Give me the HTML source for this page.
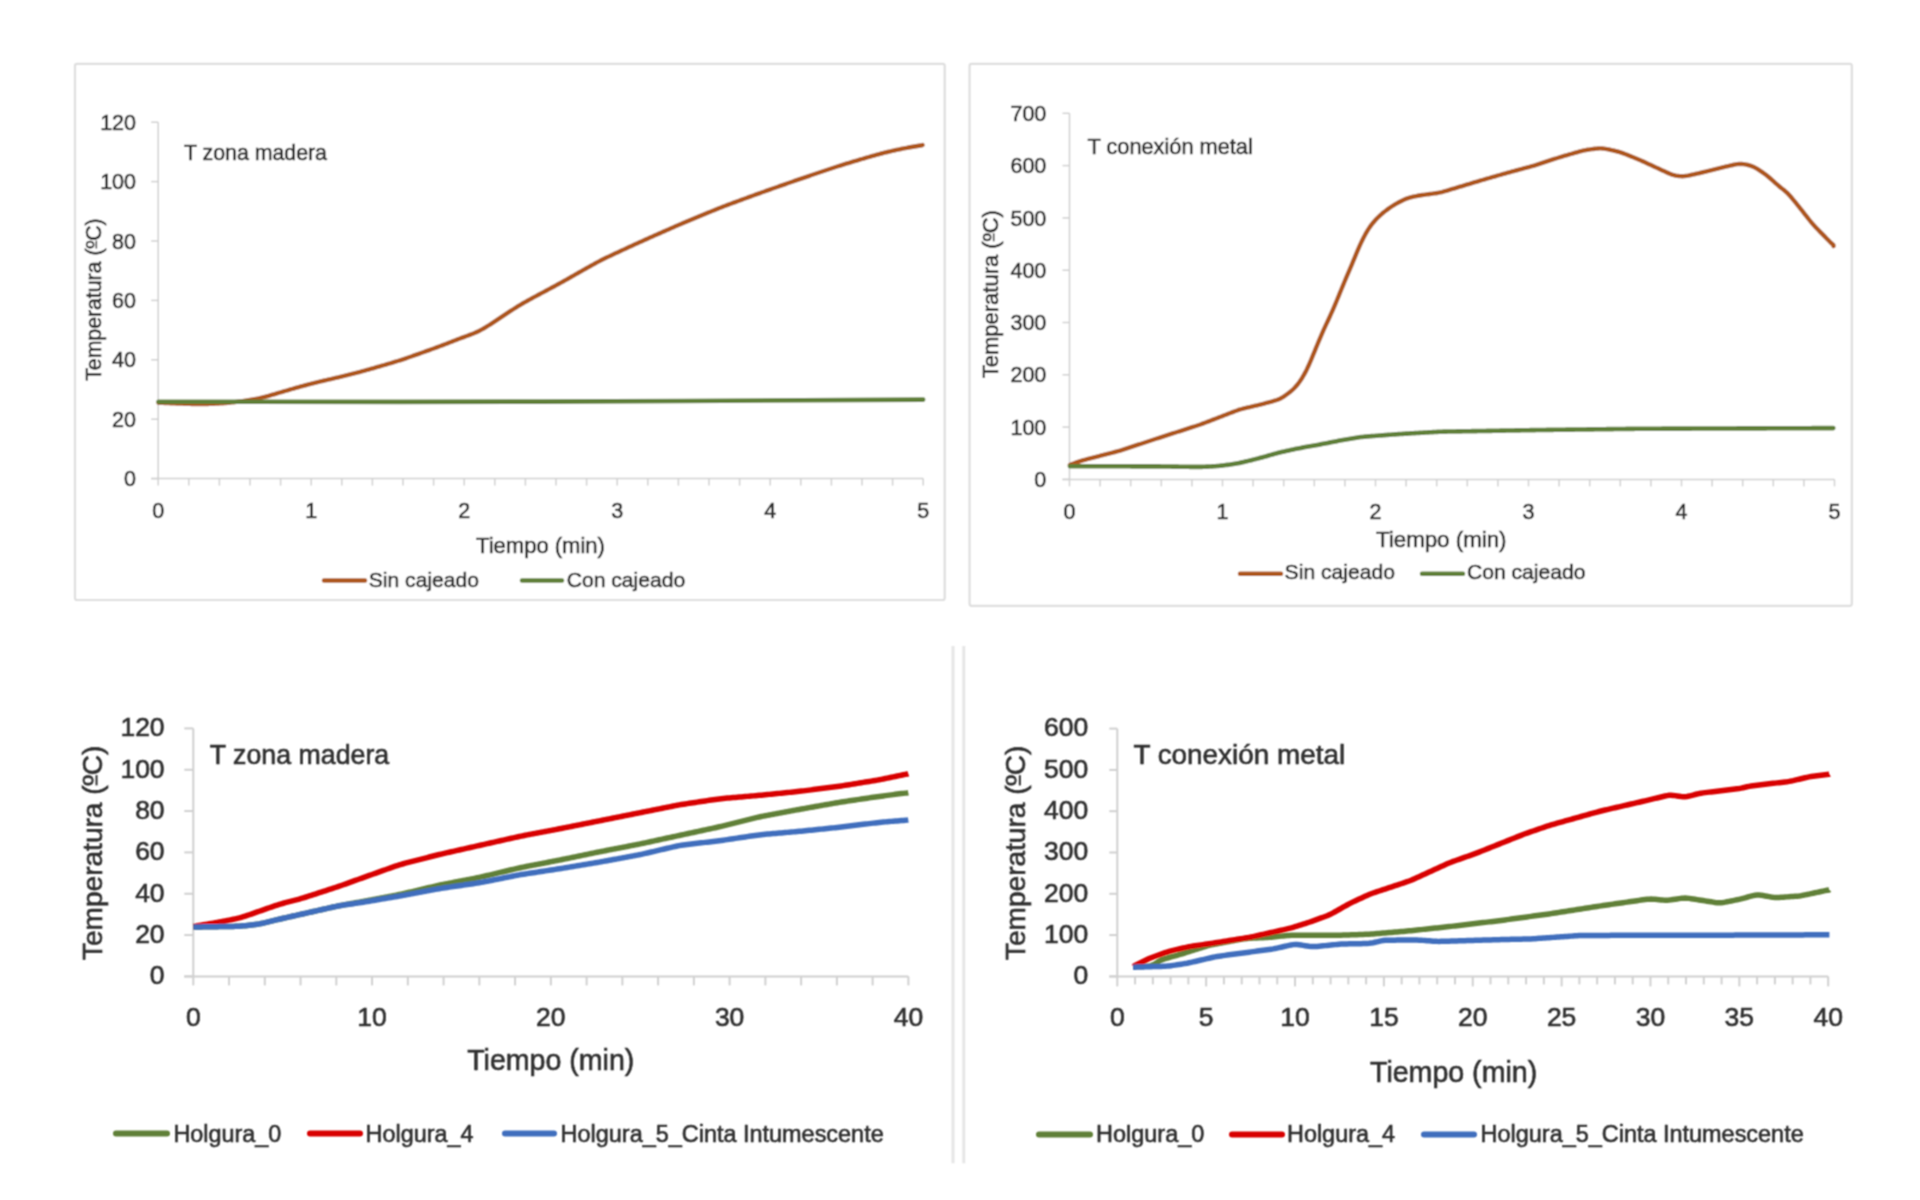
<!DOCTYPE html>
<html><head><meta charset="utf-8"><style>
html,body{margin:0;padding:0;background:#fff;width:1920px;height:1200px;overflow:hidden}
svg{display:block}
text{font-family:"Liberation Sans",sans-serif}
</style></head><body>
<svg width="1920" height="1200" viewBox="0 0 1920 1200">
<defs><filter id="bl" x="0" y="0" width="1920" height="1200" filterUnits="userSpaceOnUse"><feConvolveMatrix order="3" kernelMatrix="1 2 1 2 4 2 1 2 1" divisor="16"/></filter></defs>
<rect x="0" y="0" width="1920" height="1200" fill="#ffffff"/>
<g filter="url(#bl)">
<rect x="75" y="63.8" width="869.7" height="536.2" rx="2" fill="#ffffff" stroke="#dedede" stroke-width="2.2"/>
<rect x="969.6" y="63.8" width="882.2" height="542" rx="2" fill="#ffffff" stroke="#dedede" stroke-width="2.2"/>
<line x1="158.20" y1="122.20" x2="158.20" y2="478.60" stroke="#d0d0d0" stroke-width="1.5" stroke-linecap="butt"/>
<line x1="151.20" y1="478.60" x2="158.20" y2="478.60" stroke="#d0d0d0" stroke-width="1.5" stroke-linecap="butt"/>
<line x1="151.20" y1="419.20" x2="158.20" y2="419.20" stroke="#d0d0d0" stroke-width="1.5" stroke-linecap="butt"/>
<line x1="151.20" y1="359.80" x2="158.20" y2="359.80" stroke="#d0d0d0" stroke-width="1.5" stroke-linecap="butt"/>
<line x1="151.20" y1="300.40" x2="158.20" y2="300.40" stroke="#d0d0d0" stroke-width="1.5" stroke-linecap="butt"/>
<line x1="151.20" y1="241.00" x2="158.20" y2="241.00" stroke="#d0d0d0" stroke-width="1.5" stroke-linecap="butt"/>
<line x1="151.20" y1="181.60" x2="158.20" y2="181.60" stroke="#d0d0d0" stroke-width="1.5" stroke-linecap="butt"/>
<line x1="151.20" y1="122.20" x2="158.20" y2="122.20" stroke="#d0d0d0" stroke-width="1.5" stroke-linecap="butt"/>
<line x1="151.20" y1="478.60" x2="923.20" y2="478.60" stroke="#d0d0d0" stroke-width="1.5" stroke-linecap="butt"/>
<line x1="158.20" y1="478.60" x2="158.20" y2="485.60" stroke="#d0d0d0" stroke-width="1.5" stroke-linecap="butt"/>
<line x1="188.80" y1="478.60" x2="188.80" y2="485.60" stroke="#d0d0d0" stroke-width="1.5" stroke-linecap="butt"/>
<line x1="219.40" y1="478.60" x2="219.40" y2="485.60" stroke="#d0d0d0" stroke-width="1.5" stroke-linecap="butt"/>
<line x1="250.00" y1="478.60" x2="250.00" y2="485.60" stroke="#d0d0d0" stroke-width="1.5" stroke-linecap="butt"/>
<line x1="280.60" y1="478.60" x2="280.60" y2="485.60" stroke="#d0d0d0" stroke-width="1.5" stroke-linecap="butt"/>
<line x1="311.20" y1="478.60" x2="311.20" y2="485.60" stroke="#d0d0d0" stroke-width="1.5" stroke-linecap="butt"/>
<line x1="341.80" y1="478.60" x2="341.80" y2="485.60" stroke="#d0d0d0" stroke-width="1.5" stroke-linecap="butt"/>
<line x1="372.40" y1="478.60" x2="372.40" y2="485.60" stroke="#d0d0d0" stroke-width="1.5" stroke-linecap="butt"/>
<line x1="403.00" y1="478.60" x2="403.00" y2="485.60" stroke="#d0d0d0" stroke-width="1.5" stroke-linecap="butt"/>
<line x1="433.60" y1="478.60" x2="433.60" y2="485.60" stroke="#d0d0d0" stroke-width="1.5" stroke-linecap="butt"/>
<line x1="464.20" y1="478.60" x2="464.20" y2="485.60" stroke="#d0d0d0" stroke-width="1.5" stroke-linecap="butt"/>
<line x1="494.80" y1="478.60" x2="494.80" y2="485.60" stroke="#d0d0d0" stroke-width="1.5" stroke-linecap="butt"/>
<line x1="525.40" y1="478.60" x2="525.40" y2="485.60" stroke="#d0d0d0" stroke-width="1.5" stroke-linecap="butt"/>
<line x1="556.00" y1="478.60" x2="556.00" y2="485.60" stroke="#d0d0d0" stroke-width="1.5" stroke-linecap="butt"/>
<line x1="586.60" y1="478.60" x2="586.60" y2="485.60" stroke="#d0d0d0" stroke-width="1.5" stroke-linecap="butt"/>
<line x1="617.20" y1="478.60" x2="617.20" y2="485.60" stroke="#d0d0d0" stroke-width="1.5" stroke-linecap="butt"/>
<line x1="647.80" y1="478.60" x2="647.80" y2="485.60" stroke="#d0d0d0" stroke-width="1.5" stroke-linecap="butt"/>
<line x1="678.40" y1="478.60" x2="678.40" y2="485.60" stroke="#d0d0d0" stroke-width="1.5" stroke-linecap="butt"/>
<line x1="709.00" y1="478.60" x2="709.00" y2="485.60" stroke="#d0d0d0" stroke-width="1.5" stroke-linecap="butt"/>
<line x1="739.60" y1="478.60" x2="739.60" y2="485.60" stroke="#d0d0d0" stroke-width="1.5" stroke-linecap="butt"/>
<line x1="770.20" y1="478.60" x2="770.20" y2="485.60" stroke="#d0d0d0" stroke-width="1.5" stroke-linecap="butt"/>
<line x1="800.80" y1="478.60" x2="800.80" y2="485.60" stroke="#d0d0d0" stroke-width="1.5" stroke-linecap="butt"/>
<line x1="831.40" y1="478.60" x2="831.40" y2="485.60" stroke="#d0d0d0" stroke-width="1.5" stroke-linecap="butt"/>
<line x1="862.00" y1="478.60" x2="862.00" y2="485.60" stroke="#d0d0d0" stroke-width="1.5" stroke-linecap="butt"/>
<line x1="892.60" y1="478.60" x2="892.60" y2="485.60" stroke="#d0d0d0" stroke-width="1.5" stroke-linecap="butt"/>
<line x1="923.20" y1="478.60" x2="923.20" y2="485.60" stroke="#d0d0d0" stroke-width="1.5" stroke-linecap="butt"/>
<text x="124.05" y="486.21" font-size="21.50" fill="#2f2f2f" stroke="#2f2f2f" stroke-width="0.60" >0</text>
<text x="112.09" y="426.81" font-size="21.50" fill="#2f2f2f" stroke="#2f2f2f" stroke-width="0.60" >20</text>
<text x="112.09" y="367.41" font-size="21.50" fill="#2f2f2f" stroke="#2f2f2f" stroke-width="0.60" >40</text>
<text x="112.09" y="308.01" font-size="21.50" fill="#2f2f2f" stroke="#2f2f2f" stroke-width="0.60" >60</text>
<text x="112.09" y="248.61" font-size="21.50" fill="#2f2f2f" stroke="#2f2f2f" stroke-width="0.60" >80</text>
<text x="100.14" y="189.21" font-size="21.50" fill="#2f2f2f" stroke="#2f2f2f" stroke-width="0.60" >100</text>
<text x="100.14" y="129.81" font-size="21.50" fill="#2f2f2f" stroke="#2f2f2f" stroke-width="0.60" >120</text>
<text x="152.22" y="518.30" font-size="21.50" fill="#2f2f2f" stroke="#2f2f2f" stroke-width="0.60" >0</text>
<text x="305.22" y="518.30" font-size="21.50" fill="#2f2f2f" stroke="#2f2f2f" stroke-width="0.60" >1</text>
<text x="458.22" y="518.30" font-size="21.50" fill="#2f2f2f" stroke="#2f2f2f" stroke-width="0.60" >2</text>
<text x="611.22" y="518.30" font-size="21.50" fill="#2f2f2f" stroke="#2f2f2f" stroke-width="0.60" >3</text>
<text x="764.22" y="518.30" font-size="21.50" fill="#2f2f2f" stroke="#2f2f2f" stroke-width="0.60" >4</text>
<text x="917.22" y="518.30" font-size="21.50" fill="#2f2f2f" stroke="#2f2f2f" stroke-width="0.60" >5</text>
<text x="184.00" y="160.00" font-size="21.32" fill="#2f2f2f" stroke="#2f2f2f" stroke-width="0.60" >T zona madera</text>
<text x="476.00" y="553.30" font-size="22.04" fill="#2f2f2f" stroke="#2f2f2f" stroke-width="0.60" >Tiempo (min)</text>
<text transform="translate(100.61,380.80) rotate(-90)" x="0.00" y="0" font-size="21.26" fill="#2f2f2f" stroke="#2f2f2f" stroke-width="0.60">Temperatura (ºC)</text>
<rect transform="translate(100.61,380.80) rotate(-90)" x="132.31" y="-5.01" width="7.76" height="1.52" fill="#2f2f2f"/>
<line x1="324.00" y1="580.60" x2="365.00" y2="580.60" stroke="#ad561a" stroke-width="4.5" stroke-linecap="round"/>
<text x="368.75" y="586.50" font-size="21.10" fill="#2f2f2f" stroke="#2f2f2f" stroke-width="0.60" >Sin cajeado</text>
<line x1="522.00" y1="580.60" x2="562.00" y2="580.60" stroke="#5e7f37" stroke-width="4.5" stroke-linecap="round"/>
<text x="566.70" y="586.50" font-size="21.14" fill="#2f2f2f" stroke="#2f2f2f" stroke-width="0.60" >Con cajeado</text>
<path d="M158.5,402.70 L160.0,402.76 L161.5,402.83 L163.0,402.89 L164.5,402.95 L166.0,403.01 L167.5,403.08 L169.0,403.14 L170.5,403.20 L172.0,403.26 L173.5,403.32 L175.0,403.38 L176.5,403.44 L178.0,403.50 L179.5,403.56 L181.0,403.62 L182.5,403.67 L184.0,403.72 L185.5,403.78 L187.0,403.83 L188.5,403.88 L190.0,403.92 L191.5,403.96 L193.0,404.00 L194.5,404.03 L196.0,404.05 L197.5,404.07 L199.0,404.07 L200.5,404.08 L202.0,404.07 L203.5,404.05 L205.0,404.03 L206.5,404.00 L208.0,403.96 L209.5,403.92 L211.0,403.86 L212.5,403.80 L214.0,403.74 L215.5,403.67 L217.0,403.59 L218.5,403.50 L220.0,403.41 L221.5,403.31 L223.0,403.20 L224.5,403.08 L226.0,402.96 L227.5,402.83 L229.0,402.69 L230.5,402.55 L232.0,402.40 L233.5,402.25 L235.0,402.09 L236.5,401.92 L238.0,401.74 L239.5,401.55 L241.0,401.36 L242.5,401.16 L244.0,400.95 L245.5,400.73 L247.0,400.50 L248.5,400.27 L250.0,400.02 L251.5,399.76 L253.0,399.49 L254.5,399.21 L256.0,398.92 L257.5,398.61 L259.0,398.28 L260.5,397.94 L262.0,397.58 L263.5,397.21 L265.0,396.82 L266.5,396.42 L268.0,396.01 L269.5,395.59 L271.0,395.16 L272.5,394.73 L274.0,394.29 L275.5,393.85 L277.0,393.40 L278.5,392.96 L280.0,392.51 L281.5,392.07 L283.0,391.63 L284.5,391.18 L286.0,390.74 L287.5,390.30 L289.0,389.86 L290.5,389.42 L292.0,388.99 L293.5,388.56 L295.0,388.13 L296.5,387.70 L298.0,387.28 L299.5,386.87 L301.0,386.45 L302.5,386.05 L304.0,385.64 L305.5,385.25 L307.0,384.85 L308.5,384.46 L310.0,384.08 L311.5,383.70 L313.0,383.32 L314.5,382.94 L316.0,382.57 L317.5,382.20 L319.0,381.84 L320.5,381.48 L322.0,381.12 L323.5,380.76 L325.0,380.41 L326.5,380.06 L328.0,379.71 L329.5,379.37 L331.0,379.02 L332.5,378.68 L334.0,378.33 L335.5,377.98 L337.0,377.63 L338.5,377.28 L340.0,376.92 L341.5,376.56 L343.0,376.20 L344.5,375.84 L346.0,375.47 L347.5,375.10 L349.0,374.73 L350.5,374.35 L352.0,373.97 L353.5,373.59 L355.0,373.20 L356.5,372.81 L358.0,372.41 L359.5,372.01 L361.0,371.61 L362.5,371.20 L364.0,370.79 L365.5,370.38 L367.0,369.96 L368.5,369.53 L370.0,369.11 L371.5,368.68 L373.0,368.26 L374.5,367.83 L376.0,367.40 L377.5,366.97 L379.0,366.54 L380.5,366.10 L382.0,365.67 L383.5,365.24 L385.0,364.81 L386.5,364.37 L388.0,363.93 L389.5,363.50 L391.0,363.05 L392.5,362.61 L394.0,362.16 L395.5,361.70 L397.0,361.23 L398.5,360.76 L400.0,360.29 L401.5,359.80 L403.0,359.31 L404.5,358.81 L406.0,358.30 L407.5,357.79 L409.0,357.27 L410.5,356.75 L412.0,356.22 L413.5,355.70 L415.0,355.17 L416.5,354.64 L418.0,354.11 L419.5,353.58 L421.0,353.04 L422.5,352.51 L424.0,351.98 L425.5,351.44 L427.0,350.91 L428.5,350.37 L430.0,349.83 L431.5,349.29 L433.0,348.75 L434.5,348.20 L436.0,347.66 L437.5,347.10 L439.0,346.54 L440.5,345.98 L442.0,345.41 L443.5,344.84 L445.0,344.27 L446.5,343.69 L448.0,343.11 L449.5,342.52 L451.0,341.94 L452.5,341.36 L454.0,340.77 L455.5,340.19 L457.0,339.62 L458.5,339.05 L460.0,338.48 L461.5,337.92 L463.0,337.37 L464.5,336.82 L466.0,336.27 L467.5,335.72 L469.0,335.17 L470.5,334.61 L472.0,334.02 L473.5,333.42 L475.0,332.79 L476.5,332.12 L478.0,331.42 L479.5,330.68 L481.0,329.90 L482.5,329.08 L484.0,328.23 L485.5,327.34 L487.0,326.43 L488.5,325.50 L490.0,324.55 L491.5,323.58 L493.0,322.61 L494.5,321.62 L496.0,320.63 L497.5,319.64 L499.0,318.64 L500.5,317.65 L502.0,316.65 L503.5,315.65 L505.0,314.65 L506.5,313.66 L508.0,312.67 L509.5,311.68 L511.0,310.70 L512.5,309.72 L514.0,308.76 L515.5,307.81 L517.0,306.87 L518.5,305.95 L520.0,305.04 L521.5,304.14 L523.0,303.26 L524.5,302.40 L526.0,301.55 L527.5,300.71 L529.0,299.88 L530.5,299.06 L532.0,298.24 L533.5,297.43 L535.0,296.62 L536.5,295.82 L538.0,295.02 L539.5,294.22 L541.0,293.42 L542.5,292.62 L544.0,291.82 L545.5,291.02 L547.0,290.22 L548.5,289.41 L550.0,288.61 L551.5,287.80 L553.0,287.00 L554.5,286.19 L556.0,285.37 L557.5,284.55 L559.0,283.73 L560.5,282.90 L562.0,282.07 L563.5,281.24 L565.0,280.40 L566.5,279.56 L568.0,278.72 L569.5,277.87 L571.0,277.02 L572.5,276.17 L574.0,275.32 L575.5,274.46 L577.0,273.61 L578.5,272.75 L580.0,271.90 L581.5,271.05 L583.0,270.19 L584.5,269.34 L586.0,268.49 L587.5,267.65 L589.0,266.80 L590.5,265.96 L592.0,265.13 L593.5,264.31 L595.0,263.49 L596.5,262.68 L598.0,261.89 L599.5,261.10 L601.0,260.33 L602.5,259.57 L604.0,258.82 L605.5,258.08 L607.0,257.35 L608.5,256.63 L610.0,255.92 L611.5,255.21 L613.0,254.51 L614.5,253.80 L616.0,253.11 L617.5,252.41 L619.0,251.71 L620.5,251.02 L622.0,250.33 L623.5,249.63 L625.0,248.94 L626.5,248.25 L628.0,247.55 L629.5,246.86 L631.0,246.17 L632.5,245.48 L634.0,244.80 L635.5,244.11 L637.0,243.43 L638.5,242.74 L640.0,242.06 L641.5,241.39 L643.0,240.71 L644.5,240.04 L646.0,239.37 L647.5,238.70 L649.0,238.03 L650.5,237.36 L652.0,236.69 L653.5,236.03 L655.0,235.36 L656.5,234.70 L658.0,234.04 L659.5,233.37 L661.0,232.71 L662.5,232.04 L664.0,231.38 L665.5,230.72 L667.0,230.06 L668.5,229.40 L670.0,228.74 L671.5,228.08 L673.0,227.42 L674.5,226.77 L676.0,226.11 L677.5,225.46 L679.0,224.82 L680.5,224.17 L682.0,223.53 L683.5,222.90 L685.0,222.26 L686.5,221.63 L688.0,221.00 L689.5,220.37 L691.0,219.74 L692.5,219.12 L694.0,218.49 L695.5,217.87 L697.0,217.25 L698.5,216.62 L700.0,216.00 L701.5,215.38 L703.0,214.76 L704.5,214.14 L706.0,213.52 L707.5,212.90 L709.0,212.28 L710.5,211.66 L712.0,211.05 L713.5,210.44 L715.0,209.84 L716.5,209.23 L718.0,208.64 L719.5,208.05 L721.0,207.46 L722.5,206.88 L724.0,206.30 L725.5,205.73 L727.0,205.17 L728.5,204.60 L730.0,204.04 L731.5,203.49 L733.0,202.93 L734.5,202.38 L736.0,201.82 L737.5,201.27 L739.0,200.72 L740.5,200.17 L742.0,199.62 L743.5,199.06 L745.0,198.51 L746.5,197.96 L748.0,197.41 L749.5,196.86 L751.0,196.32 L752.5,195.77 L754.0,195.22 L755.5,194.68 L757.0,194.14 L758.5,193.59 L760.0,193.06 L761.5,192.52 L763.0,191.98 L764.5,191.45 L766.0,190.92 L767.5,190.39 L769.0,189.86 L770.5,189.33 L772.0,188.80 L773.5,188.28 L775.0,187.75 L776.5,187.23 L778.0,186.70 L779.5,186.18 L781.0,185.65 L782.5,185.13 L784.0,184.60 L785.5,184.08 L787.0,183.55 L788.5,183.03 L790.0,182.50 L791.5,181.98 L793.0,181.46 L794.5,180.94 L796.0,180.42 L797.5,179.90 L799.0,179.38 L800.5,178.87 L802.0,178.35 L803.5,177.84 L805.0,177.33 L806.5,176.82 L808.0,176.31 L809.5,175.80 L811.0,175.29 L812.5,174.78 L814.0,174.28 L815.5,173.77 L817.0,173.26 L818.5,172.76 L820.0,172.25 L821.5,171.74 L823.0,171.24 L824.5,170.73 L826.0,170.23 L827.5,169.73 L829.0,169.23 L830.5,168.73 L832.0,168.23 L833.5,167.73 L835.0,167.24 L836.5,166.75 L838.0,166.27 L839.5,165.79 L841.0,165.32 L842.5,164.85 L844.0,164.39 L845.5,163.93 L847.0,163.47 L848.5,163.02 L850.0,162.57 L851.5,162.12 L853.0,161.67 L854.5,161.23 L856.0,160.78 L857.5,160.34 L859.0,159.90 L860.5,159.45 L862.0,159.01 L863.5,158.57 L865.0,158.13 L866.5,157.69 L868.0,157.25 L869.5,156.82 L871.0,156.39 L872.5,155.96 L874.0,155.53 L875.5,155.11 L877.0,154.70 L878.5,154.29 L880.0,153.89 L881.5,153.50 L883.0,153.11 L884.5,152.73 L886.0,152.36 L887.5,151.99 L889.0,151.63 L890.5,151.28 L892.0,150.93 L893.5,150.59 L895.0,150.25 L896.5,149.92 L898.0,149.60 L899.5,149.29 L901.0,148.98 L902.5,148.68 L904.0,148.38 L905.5,148.09 L907.0,147.81 L908.5,147.53 L910.0,147.26 L911.5,146.99 L913.0,146.73 L914.5,146.48 L916.0,146.22 L917.5,145.98 L919.0,145.74 L920.5,145.50 L922.0,145.27 L922.5,145.04" fill="none" stroke="#ad561a" stroke-width="4.4" stroke-linejoin="round" stroke-linecap="round" />
<path d="M158.5,401.8 C222.1,401.8 412.6,402.0 540.0,401.6 C667.5,401.2 859.3,399.9 923.2,399.6" fill="none" stroke="#5e7f37" stroke-width="4.6" stroke-linejoin="round" stroke-linecap="round" />
<line x1="1069.50" y1="113.30" x2="1069.50" y2="479.40" stroke="#d0d0d0" stroke-width="1.5" stroke-linecap="butt"/>
<line x1="1062.50" y1="479.40" x2="1069.50" y2="479.40" stroke="#d0d0d0" stroke-width="1.5" stroke-linecap="butt"/>
<line x1="1062.50" y1="427.10" x2="1069.50" y2="427.10" stroke="#d0d0d0" stroke-width="1.5" stroke-linecap="butt"/>
<line x1="1062.50" y1="374.80" x2="1069.50" y2="374.80" stroke="#d0d0d0" stroke-width="1.5" stroke-linecap="butt"/>
<line x1="1062.50" y1="322.50" x2="1069.50" y2="322.50" stroke="#d0d0d0" stroke-width="1.5" stroke-linecap="butt"/>
<line x1="1062.50" y1="270.20" x2="1069.50" y2="270.20" stroke="#d0d0d0" stroke-width="1.5" stroke-linecap="butt"/>
<line x1="1062.50" y1="217.90" x2="1069.50" y2="217.90" stroke="#d0d0d0" stroke-width="1.5" stroke-linecap="butt"/>
<line x1="1062.50" y1="165.60" x2="1069.50" y2="165.60" stroke="#d0d0d0" stroke-width="1.5" stroke-linecap="butt"/>
<line x1="1062.50" y1="113.30" x2="1069.50" y2="113.30" stroke="#d0d0d0" stroke-width="1.5" stroke-linecap="butt"/>
<line x1="1062.50" y1="479.40" x2="1834.50" y2="479.40" stroke="#d0d0d0" stroke-width="1.5" stroke-linecap="butt"/>
<line x1="1069.50" y1="479.40" x2="1069.50" y2="486.40" stroke="#d0d0d0" stroke-width="1.5" stroke-linecap="butt"/>
<line x1="1100.10" y1="479.40" x2="1100.10" y2="486.40" stroke="#d0d0d0" stroke-width="1.5" stroke-linecap="butt"/>
<line x1="1130.70" y1="479.40" x2="1130.70" y2="486.40" stroke="#d0d0d0" stroke-width="1.5" stroke-linecap="butt"/>
<line x1="1161.30" y1="479.40" x2="1161.30" y2="486.40" stroke="#d0d0d0" stroke-width="1.5" stroke-linecap="butt"/>
<line x1="1191.90" y1="479.40" x2="1191.90" y2="486.40" stroke="#d0d0d0" stroke-width="1.5" stroke-linecap="butt"/>
<line x1="1222.50" y1="479.40" x2="1222.50" y2="486.40" stroke="#d0d0d0" stroke-width="1.5" stroke-linecap="butt"/>
<line x1="1253.10" y1="479.40" x2="1253.10" y2="486.40" stroke="#d0d0d0" stroke-width="1.5" stroke-linecap="butt"/>
<line x1="1283.70" y1="479.40" x2="1283.70" y2="486.40" stroke="#d0d0d0" stroke-width="1.5" stroke-linecap="butt"/>
<line x1="1314.30" y1="479.40" x2="1314.30" y2="486.40" stroke="#d0d0d0" stroke-width="1.5" stroke-linecap="butt"/>
<line x1="1344.90" y1="479.40" x2="1344.90" y2="486.40" stroke="#d0d0d0" stroke-width="1.5" stroke-linecap="butt"/>
<line x1="1375.50" y1="479.40" x2="1375.50" y2="486.40" stroke="#d0d0d0" stroke-width="1.5" stroke-linecap="butt"/>
<line x1="1406.10" y1="479.40" x2="1406.10" y2="486.40" stroke="#d0d0d0" stroke-width="1.5" stroke-linecap="butt"/>
<line x1="1436.70" y1="479.40" x2="1436.70" y2="486.40" stroke="#d0d0d0" stroke-width="1.5" stroke-linecap="butt"/>
<line x1="1467.30" y1="479.40" x2="1467.30" y2="486.40" stroke="#d0d0d0" stroke-width="1.5" stroke-linecap="butt"/>
<line x1="1497.90" y1="479.40" x2="1497.90" y2="486.40" stroke="#d0d0d0" stroke-width="1.5" stroke-linecap="butt"/>
<line x1="1528.50" y1="479.40" x2="1528.50" y2="486.40" stroke="#d0d0d0" stroke-width="1.5" stroke-linecap="butt"/>
<line x1="1559.10" y1="479.40" x2="1559.10" y2="486.40" stroke="#d0d0d0" stroke-width="1.5" stroke-linecap="butt"/>
<line x1="1589.70" y1="479.40" x2="1589.70" y2="486.40" stroke="#d0d0d0" stroke-width="1.5" stroke-linecap="butt"/>
<line x1="1620.30" y1="479.40" x2="1620.30" y2="486.40" stroke="#d0d0d0" stroke-width="1.5" stroke-linecap="butt"/>
<line x1="1650.90" y1="479.40" x2="1650.90" y2="486.40" stroke="#d0d0d0" stroke-width="1.5" stroke-linecap="butt"/>
<line x1="1681.50" y1="479.40" x2="1681.50" y2="486.40" stroke="#d0d0d0" stroke-width="1.5" stroke-linecap="butt"/>
<line x1="1712.10" y1="479.40" x2="1712.10" y2="486.40" stroke="#d0d0d0" stroke-width="1.5" stroke-linecap="butt"/>
<line x1="1742.70" y1="479.40" x2="1742.70" y2="486.40" stroke="#d0d0d0" stroke-width="1.5" stroke-linecap="butt"/>
<line x1="1773.30" y1="479.40" x2="1773.30" y2="486.40" stroke="#d0d0d0" stroke-width="1.5" stroke-linecap="butt"/>
<line x1="1803.90" y1="479.40" x2="1803.90" y2="486.40" stroke="#d0d0d0" stroke-width="1.5" stroke-linecap="butt"/>
<line x1="1834.50" y1="479.40" x2="1834.50" y2="486.40" stroke="#d0d0d0" stroke-width="1.5" stroke-linecap="butt"/>
<text x="1034.35" y="487.01" font-size="21.50" fill="#2f2f2f" stroke="#2f2f2f" stroke-width="0.60" >0</text>
<text x="1010.44" y="434.71" font-size="21.50" fill="#2f2f2f" stroke="#2f2f2f" stroke-width="0.60" >100</text>
<text x="1010.44" y="382.41" font-size="21.50" fill="#2f2f2f" stroke="#2f2f2f" stroke-width="0.60" >200</text>
<text x="1010.44" y="330.11" font-size="21.50" fill="#2f2f2f" stroke="#2f2f2f" stroke-width="0.60" >300</text>
<text x="1010.44" y="277.81" font-size="21.50" fill="#2f2f2f" stroke="#2f2f2f" stroke-width="0.60" >400</text>
<text x="1010.44" y="225.51" font-size="21.50" fill="#2f2f2f" stroke="#2f2f2f" stroke-width="0.60" >500</text>
<text x="1010.44" y="173.21" font-size="21.50" fill="#2f2f2f" stroke="#2f2f2f" stroke-width="0.60" >600</text>
<text x="1010.44" y="120.91" font-size="21.50" fill="#2f2f2f" stroke="#2f2f2f" stroke-width="0.60" >700</text>
<text x="1063.52" y="518.60" font-size="21.50" fill="#2f2f2f" stroke="#2f2f2f" stroke-width="0.60" >0</text>
<text x="1216.52" y="518.60" font-size="21.50" fill="#2f2f2f" stroke="#2f2f2f" stroke-width="0.60" >1</text>
<text x="1369.52" y="518.60" font-size="21.50" fill="#2f2f2f" stroke="#2f2f2f" stroke-width="0.60" >2</text>
<text x="1522.52" y="518.60" font-size="21.50" fill="#2f2f2f" stroke="#2f2f2f" stroke-width="0.60" >3</text>
<text x="1675.52" y="518.60" font-size="21.50" fill="#2f2f2f" stroke="#2f2f2f" stroke-width="0.60" >4</text>
<text x="1828.52" y="518.60" font-size="21.50" fill="#2f2f2f" stroke="#2f2f2f" stroke-width="0.60" >5</text>
<text x="1087.50" y="154.20" font-size="21.76" fill="#2f2f2f" stroke="#2f2f2f" stroke-width="0.60" >T conexión metal</text>
<text x="1376.00" y="546.70" font-size="22.30" fill="#2f2f2f" stroke="#2f2f2f" stroke-width="0.60" >Tiempo (min)</text>
<text transform="translate(998.06,378.20) rotate(-90)" x="0.00" y="0" font-size="21.99" fill="#2f2f2f" stroke="#2f2f2f" stroke-width="0.60">Temperatura (ºC)</text>
<rect transform="translate(998.06,378.20) rotate(-90)" x="136.87" y="-5.18" width="8.03" height="1.57" fill="#2f2f2f"/>
<line x1="1240.00" y1="573.75" x2="1281.00" y2="573.75" stroke="#ad561a" stroke-width="4.5" stroke-linecap="round"/>
<text x="1284.60" y="579.00" font-size="21.13" fill="#2f2f2f" stroke="#2f2f2f" stroke-width="0.60" >Sin cajeado</text>
<line x1="1422.00" y1="573.75" x2="1463.00" y2="573.75" stroke="#5e7f37" stroke-width="4.5" stroke-linecap="round"/>
<text x="1466.90" y="579.00" font-size="21.14" fill="#2f2f2f" stroke="#2f2f2f" stroke-width="0.60" >Con cajeado</text>
<path d="M1069.9,465.00 L1071.4,464.41 L1072.9,463.82 L1074.4,463.23 L1075.9,462.65 L1077.4,462.09 L1078.9,461.56 L1080.4,461.06 L1081.9,460.60 L1083.4,460.17 L1084.9,459.76 L1086.4,459.36 L1087.9,458.97 L1089.4,458.58 L1090.9,458.19 L1092.4,457.81 L1093.9,457.42 L1095.4,457.03 L1096.9,456.65 L1098.4,456.26 L1099.9,455.88 L1101.4,455.49 L1102.9,455.10 L1104.4,454.72 L1105.9,454.33 L1107.4,453.94 L1108.9,453.56 L1110.4,453.17 L1111.9,452.78 L1113.4,452.40 L1114.9,452.00 L1116.4,451.61 L1117.9,451.20 L1119.4,450.77 L1120.9,450.33 L1122.4,449.87 L1123.9,449.40 L1125.4,448.91 L1126.9,448.42 L1128.4,447.93 L1129.9,447.43 L1131.4,446.94 L1132.9,446.44 L1134.4,445.95 L1135.9,445.45 L1137.4,444.96 L1138.9,444.46 L1140.4,443.97 L1141.9,443.47 L1143.4,442.98 L1144.9,442.48 L1146.4,441.99 L1147.9,441.49 L1149.4,441.00 L1150.9,440.50 L1152.4,440.01 L1153.9,439.51 L1155.4,439.02 L1156.9,438.53 L1158.4,438.04 L1159.9,437.55 L1161.4,437.06 L1162.9,436.58 L1164.4,436.09 L1165.9,435.61 L1167.4,435.13 L1168.9,434.65 L1170.4,434.17 L1171.9,433.69 L1173.4,433.21 L1174.9,432.73 L1176.4,432.25 L1177.9,431.77 L1179.4,431.29 L1180.9,430.81 L1182.4,430.33 L1183.9,429.85 L1185.4,429.37 L1186.9,428.89 L1188.4,428.41 L1189.9,427.93 L1191.4,427.45 L1192.9,426.97 L1194.4,426.49 L1195.9,426.00 L1197.4,425.50 L1198.9,424.99 L1200.4,424.47 L1201.9,423.93 L1203.4,423.37 L1204.9,422.81 L1206.4,422.23 L1207.9,421.66 L1209.4,421.08 L1210.9,420.50 L1212.4,419.93 L1213.9,419.35 L1215.4,418.77 L1216.9,418.19 L1218.4,417.62 L1219.9,417.04 L1221.4,416.46 L1222.9,415.88 L1224.4,415.31 L1225.9,414.73 L1227.4,414.15 L1228.9,413.57 L1230.4,413.00 L1231.9,412.42 L1233.4,411.85 L1234.9,411.28 L1236.4,410.73 L1237.9,410.20 L1239.4,409.71 L1240.9,409.25 L1242.4,408.83 L1243.9,408.44 L1245.4,408.07 L1246.9,407.72 L1248.4,407.37 L1249.9,407.02 L1251.4,406.68 L1252.9,406.33 L1254.4,405.98 L1255.9,405.63 L1257.4,405.28 L1258.9,404.92 L1260.4,404.54 L1261.9,404.16 L1263.4,403.77 L1264.9,403.37 L1266.4,402.97 L1267.9,402.57 L1269.4,402.16 L1270.9,401.76 L1272.4,401.34 L1273.9,400.92 L1275.4,400.48 L1276.9,399.98 L1278.4,399.41 L1279.9,398.73 L1281.4,397.95 L1282.9,397.05 L1284.4,396.07 L1285.9,395.04 L1287.4,393.96 L1288.9,392.84 L1290.4,391.66 L1291.9,390.39 L1293.4,389.00 L1294.9,387.49 L1296.4,385.82 L1297.9,384.00 L1299.4,382.01 L1300.9,379.84 L1302.4,377.48 L1303.9,374.92 L1305.4,372.15 L1306.9,369.17 L1308.4,365.98 L1309.9,362.60 L1311.4,359.07 L1312.9,355.46 L1314.4,351.80 L1315.9,348.12 L1317.4,344.46 L1318.9,340.84 L1320.4,337.30 L1321.9,333.84 L1323.4,330.47 L1324.9,327.18 L1326.4,323.93 L1327.9,320.71 L1329.4,317.47 L1330.9,314.19 L1332.4,310.84 L1333.9,307.39 L1335.4,303.86 L1336.9,300.25 L1338.4,296.59 L1339.9,292.92 L1341.4,289.25 L1342.9,285.60 L1344.4,282.00 L1345.9,278.44 L1347.4,274.92 L1348.9,271.40 L1350.4,267.87 L1351.9,264.31 L1353.4,260.70 L1354.9,257.05 L1356.4,253.40 L1357.9,249.81 L1359.4,246.35 L1360.9,243.05 L1362.4,239.93 L1363.9,236.99 L1365.4,234.21 L1366.9,231.59 L1368.4,229.15 L1369.9,226.91 L1371.4,224.86 L1372.9,222.99 L1374.4,221.24 L1375.9,219.59 L1377.4,218.01 L1378.9,216.52 L1380.4,215.12 L1381.9,213.81 L1383.4,212.57 L1384.9,211.39 L1386.4,210.25 L1387.9,209.14 L1389.4,208.05 L1390.9,207.00 L1392.4,206.00 L1393.9,205.06 L1395.4,204.17 L1396.9,203.32 L1398.4,202.51 L1399.9,201.72 L1401.4,200.95 L1402.9,200.20 L1404.4,199.50 L1405.9,198.86 L1407.4,198.30 L1408.9,197.81 L1410.4,197.39 L1411.9,197.02 L1413.4,196.69 L1414.9,196.37 L1416.4,196.07 L1417.9,195.78 L1419.4,195.51 L1420.9,195.26 L1422.4,195.03 L1423.9,194.81 L1425.4,194.61 L1426.9,194.41 L1428.4,194.21 L1429.9,194.01 L1431.4,193.82 L1432.9,193.62 L1434.4,193.41 L1435.9,193.20 L1437.4,192.96 L1438.9,192.69 L1440.4,192.37 L1441.9,192.02 L1443.4,191.63 L1444.9,191.21 L1446.4,190.77 L1447.9,190.33 L1449.4,189.88 L1450.9,189.43 L1452.4,188.98 L1453.9,188.53 L1455.4,188.08 L1456.9,187.63 L1458.4,187.18 L1459.9,186.73 L1461.4,186.28 L1462.9,185.83 L1464.4,185.38 L1465.9,184.93 L1467.4,184.48 L1468.9,184.03 L1470.4,183.58 L1471.9,183.13 L1473.4,182.68 L1474.9,182.23 L1476.4,181.78 L1477.9,181.33 L1479.4,180.88 L1480.9,180.43 L1482.4,179.99 L1483.9,179.54 L1485.4,179.11 L1486.9,178.67 L1488.4,178.24 L1489.9,177.81 L1491.4,177.38 L1492.9,176.96 L1494.4,176.53 L1495.9,176.10 L1497.4,175.68 L1498.9,175.25 L1500.4,174.83 L1501.9,174.40 L1503.4,173.98 L1504.9,173.55 L1506.4,173.13 L1507.9,172.71 L1509.4,172.29 L1510.9,171.87 L1512.4,171.47 L1513.9,171.06 L1515.4,170.65 L1516.9,170.25 L1518.4,169.85 L1519.9,169.45 L1521.4,169.04 L1522.9,168.64 L1524.4,168.24 L1525.9,167.84 L1527.4,167.44 L1528.9,167.03 L1530.4,166.62 L1531.9,166.21 L1533.4,165.78 L1534.9,165.34 L1536.4,164.88 L1537.9,164.41 L1539.4,163.93 L1540.9,163.44 L1542.4,162.94 L1543.9,162.44 L1545.4,161.95 L1546.9,161.45 L1548.4,160.95 L1549.9,160.45 L1551.4,159.96 L1552.9,159.46 L1554.4,158.96 L1555.9,158.47 L1557.4,157.99 L1558.9,157.51 L1560.4,157.04 L1561.9,156.59 L1563.4,156.15 L1564.9,155.71 L1566.4,155.28 L1567.9,154.86 L1569.4,154.43 L1570.9,154.00 L1572.4,153.58 L1573.9,153.15 L1575.4,152.73 L1576.9,152.30 L1578.4,151.88 L1579.9,151.47 L1581.4,151.07 L1582.9,150.69 L1584.4,150.35 L1585.9,150.05 L1587.4,149.78 L1588.9,149.55 L1590.4,149.34 L1591.9,149.14 L1593.4,148.95 L1594.9,148.77 L1596.4,148.60 L1597.9,148.47 L1599.4,148.38 L1600.9,148.37 L1602.4,148.44 L1603.9,148.59 L1605.4,148.82 L1606.9,149.10 L1608.4,149.41 L1609.9,149.74 L1611.4,150.08 L1612.9,150.41 L1614.4,150.76 L1615.9,151.12 L1617.4,151.50 L1618.9,151.91 L1620.4,152.37 L1621.9,152.87 L1623.4,153.41 L1624.9,153.98 L1626.4,154.57 L1627.9,155.16 L1629.4,155.76 L1630.9,156.36 L1632.4,156.96 L1633.9,157.56 L1635.4,158.17 L1636.9,158.78 L1638.4,159.41 L1639.9,160.05 L1641.4,160.70 L1642.9,161.37 L1644.4,162.06 L1645.9,162.75 L1647.4,163.44 L1648.9,164.14 L1650.4,164.84 L1651.9,165.53 L1653.4,166.23 L1654.9,166.93 L1656.4,167.63 L1657.9,168.32 L1659.4,169.02 L1660.9,169.71 L1662.4,170.41 L1663.9,171.10 L1665.4,171.79 L1666.9,172.47 L1668.4,173.13 L1669.9,173.76 L1671.4,174.33 L1672.9,174.82 L1674.4,175.24 L1675.9,175.57 L1677.4,175.83 L1678.9,176.03 L1680.4,176.16 L1681.9,176.22 L1683.4,176.18 L1684.9,176.05 L1686.4,175.85 L1687.9,175.59 L1689.4,175.29 L1690.9,174.98 L1692.4,174.65 L1693.9,174.33 L1695.4,174.00 L1696.9,173.66 L1698.4,173.32 L1699.9,172.98 L1701.4,172.62 L1702.9,172.26 L1704.4,171.89 L1705.9,171.52 L1707.4,171.15 L1708.9,170.77 L1710.4,170.40 L1711.9,170.03 L1713.4,169.65 L1714.9,169.28 L1716.4,168.90 L1717.9,168.53 L1719.4,168.17 L1720.9,167.80 L1722.4,167.44 L1723.9,167.09 L1725.4,166.73 L1726.9,166.38 L1728.4,166.03 L1729.9,165.67 L1731.4,165.32 L1732.9,164.98 L1734.4,164.65 L1735.9,164.36 L1737.4,164.12 L1738.9,163.96 L1740.4,163.92 L1741.9,163.98 L1743.4,164.14 L1744.9,164.38 L1746.4,164.67 L1747.9,165.00 L1749.4,165.38 L1750.9,165.84 L1752.4,166.39 L1753.9,167.05 L1755.4,167.83 L1756.9,168.70 L1758.4,169.63 L1759.9,170.61 L1761.4,171.61 L1762.9,172.63 L1764.4,173.69 L1765.9,174.81 L1767.4,175.98 L1768.9,177.22 L1770.4,178.52 L1771.9,179.85 L1773.4,181.21 L1774.9,182.57 L1776.4,183.91 L1777.9,185.21 L1779.4,186.47 L1780.9,187.68 L1782.4,188.86 L1783.9,190.05 L1785.4,191.31 L1786.9,192.67 L1788.4,194.16 L1789.9,195.79 L1791.4,197.51 L1792.9,199.30 L1794.4,201.12 L1795.9,202.97 L1797.4,204.83 L1798.9,206.70 L1800.4,208.58 L1801.9,210.48 L1803.4,212.38 L1804.9,214.30 L1806.4,216.21 L1807.9,218.12 L1809.4,220.00 L1810.9,221.83 L1812.4,223.61 L1813.9,225.32 L1815.4,226.95 L1816.9,228.53 L1818.4,230.07 L1819.9,231.59 L1821.4,233.11 L1822.9,234.62 L1824.4,236.15 L1825.9,237.70 L1827.4,239.25 L1828.9,240.79 L1830.4,242.28 L1831.9,243.69 L1833.4,244.98 L1833.5,246.17" fill="none" stroke="#ad561a" stroke-width="4.4" stroke-linejoin="round" stroke-linecap="round" />
<path d="M1069.9,466.30 L1071.4,466.30 L1072.9,466.30 L1074.4,466.30 L1075.9,466.30 L1077.4,466.30 L1078.9,466.30 L1080.4,466.30 L1081.9,466.30 L1083.4,466.30 L1084.9,466.30 L1086.4,466.30 L1087.9,466.30 L1089.4,466.30 L1090.9,466.30 L1092.4,466.30 L1093.9,466.30 L1095.4,466.30 L1096.9,466.30 L1098.4,466.30 L1099.9,466.30 L1101.4,466.30 L1102.9,466.30 L1104.4,466.30 L1105.9,466.30 L1107.4,466.30 L1108.9,466.30 L1110.4,466.30 L1111.9,466.30 L1113.4,466.30 L1114.9,466.30 L1116.4,466.30 L1117.9,466.30 L1119.4,466.30 L1120.9,466.31 L1122.4,466.31 L1123.9,466.31 L1125.4,466.31 L1126.9,466.32 L1128.4,466.32 L1129.9,466.32 L1131.4,466.33 L1132.9,466.33 L1134.4,466.34 L1135.9,466.34 L1137.4,466.34 L1138.9,466.35 L1140.4,466.35 L1141.9,466.35 L1143.4,466.36 L1144.9,466.36 L1146.4,466.37 L1147.9,466.37 L1149.4,466.37 L1150.9,466.38 L1152.4,466.38 L1153.9,466.39 L1155.4,466.39 L1156.9,466.40 L1158.4,466.41 L1159.9,466.42 L1161.4,466.44 L1162.9,466.45 L1164.4,466.47 L1165.9,466.49 L1167.4,466.51 L1168.9,466.53 L1170.4,466.56 L1171.9,466.58 L1173.4,466.60 L1174.9,466.62 L1176.4,466.65 L1177.9,466.67 L1179.4,466.69 L1180.9,466.71 L1182.4,466.74 L1183.9,466.76 L1185.4,466.78 L1186.9,466.80 L1188.4,466.82 L1189.9,466.85 L1191.4,466.87 L1192.9,466.88 L1194.4,466.89 L1195.9,466.90 L1197.4,466.90 L1198.9,466.89 L1200.4,466.86 L1201.9,466.83 L1203.4,466.78 L1204.9,466.73 L1206.4,466.66 L1207.9,466.60 L1209.4,466.52 L1210.9,466.45 L1212.4,466.37 L1213.9,466.28 L1215.4,466.18 L1216.9,466.07 L1218.4,465.95 L1219.9,465.81 L1221.4,465.65 L1222.9,465.48 L1224.4,465.29 L1225.9,465.09 L1227.4,464.87 L1228.9,464.66 L1230.4,464.43 L1231.9,464.20 L1233.4,463.97 L1234.9,463.72 L1236.4,463.47 L1237.9,463.20 L1239.4,462.92 L1240.9,462.62 L1242.4,462.30 L1243.9,461.96 L1245.4,461.61 L1246.9,461.26 L1248.4,460.89 L1249.9,460.52 L1251.4,460.15 L1252.9,459.77 L1254.4,459.39 L1255.9,459.00 L1257.4,458.62 L1258.9,458.22 L1260.4,457.82 L1261.9,457.42 L1263.4,457.01 L1264.9,456.59 L1266.4,456.17 L1267.9,455.75 L1269.4,455.32 L1270.9,454.90 L1272.4,454.48 L1273.9,454.06 L1275.4,453.64 L1276.9,453.24 L1278.4,452.85 L1279.9,452.46 L1281.4,452.09 L1282.9,451.74 L1284.4,451.39 L1285.9,451.05 L1287.4,450.72 L1288.9,450.39 L1290.4,450.07 L1291.9,449.75 L1293.4,449.43 L1294.9,449.11 L1296.4,448.80 L1297.9,448.50 L1299.4,448.20 L1300.9,447.91 L1302.4,447.62 L1303.9,447.34 L1305.4,447.07 L1306.9,446.80 L1308.4,446.53 L1309.9,446.27 L1311.4,446.00 L1312.9,445.74 L1314.4,445.47 L1315.9,445.20 L1317.4,444.93 L1318.9,444.66 L1320.4,444.38 L1321.9,444.09 L1323.4,443.80 L1324.9,443.51 L1326.4,443.21 L1327.9,442.92 L1329.4,442.62 L1330.9,442.32 L1332.4,442.02 L1333.9,441.73 L1335.4,441.43 L1336.9,441.14 L1338.4,440.85 L1339.9,440.57 L1341.4,440.29 L1342.9,440.01 L1344.4,439.74 L1345.9,439.47 L1347.4,439.21 L1348.9,438.95 L1350.4,438.69 L1351.9,438.43 L1353.4,438.18 L1354.9,437.93 L1356.4,437.70 L1357.9,437.48 L1359.4,437.28 L1360.9,437.09 L1362.4,436.92 L1363.9,436.77 L1365.4,436.63 L1366.9,436.50 L1368.4,436.38 L1369.9,436.26 L1371.4,436.15 L1372.9,436.03 L1374.4,435.92 L1375.9,435.81 L1377.4,435.69 L1378.9,435.58 L1380.4,435.47 L1381.9,435.36 L1383.4,435.25 L1384.9,435.13 L1386.4,435.02 L1387.9,434.91 L1389.4,434.80 L1390.9,434.68 L1392.4,434.57 L1393.9,434.46 L1395.4,434.35 L1396.9,434.25 L1398.4,434.14 L1399.9,434.04 L1401.4,433.94 L1402.9,433.85 L1404.4,433.76 L1405.9,433.67 L1407.4,433.58 L1408.9,433.49 L1410.4,433.40 L1411.9,433.32 L1413.4,433.23 L1414.9,433.14 L1416.4,433.06 L1417.9,432.97 L1419.4,432.88 L1420.9,432.80 L1422.4,432.71 L1423.9,432.63 L1425.4,432.54 L1426.9,432.45 L1428.4,432.37 L1429.9,432.28 L1431.4,432.20 L1432.9,432.12 L1434.4,432.04 L1435.9,431.96 L1437.4,431.89 L1438.9,431.82 L1440.4,431.77 L1441.9,431.72 L1443.4,431.67 L1444.9,431.63 L1446.4,431.60 L1447.9,431.57 L1449.4,431.54 L1450.9,431.52 L1452.4,431.49 L1453.9,431.46 L1455.4,431.44 L1456.9,431.41 L1458.4,431.39 L1459.9,431.36 L1461.4,431.34 L1462.9,431.31 L1464.4,431.29 L1465.9,431.26 L1467.4,431.23 L1468.9,431.21 L1470.4,431.18 L1471.9,431.16 L1473.4,431.13 L1474.9,431.11 L1476.4,431.08 L1477.9,431.06 L1479.4,431.03 L1480.9,431.00 L1482.4,430.98 L1483.9,430.95 L1485.4,430.93 L1486.9,430.90 L1488.4,430.88 L1489.9,430.85 L1491.4,430.83 L1492.9,430.80 L1494.4,430.78 L1495.9,430.75 L1497.4,430.72 L1498.9,430.70 L1500.4,430.67 L1501.9,430.65 L1503.4,430.62 L1504.9,430.60 L1506.4,430.57 L1507.9,430.55 L1509.4,430.52 L1510.9,430.49 L1512.4,430.47 L1513.9,430.44 L1515.4,430.42 L1516.9,430.39 L1518.4,430.37 L1519.9,430.34 L1521.4,430.32 L1522.9,430.29 L1524.4,430.27 L1525.9,430.24 L1527.4,430.21 L1528.9,430.19 L1530.4,430.16 L1531.9,430.14 L1533.4,430.11 L1534.9,430.09 L1536.4,430.06 L1537.9,430.04 L1539.4,430.02 L1540.9,430.00 L1542.4,429.97 L1543.9,429.95 L1545.4,429.93 L1546.9,429.91 L1548.4,429.90 L1549.9,429.88 L1551.4,429.86 L1552.9,429.84 L1554.4,429.82 L1555.9,429.80 L1557.4,429.78 L1558.9,429.76 L1560.4,429.75 L1561.9,429.73 L1563.4,429.71 L1564.9,429.69 L1566.4,429.67 L1567.9,429.65 L1569.4,429.63 L1570.9,429.61 L1572.4,429.59 L1573.9,429.58 L1575.4,429.56 L1576.9,429.54 L1578.4,429.52 L1579.9,429.50 L1581.4,429.48 L1582.9,429.46 L1584.4,429.44 L1585.9,429.43 L1587.4,429.41 L1588.9,429.39 L1590.4,429.37 L1591.9,429.35 L1593.4,429.33 L1594.9,429.31 L1596.4,429.30 L1597.9,429.28 L1599.4,429.26 L1600.9,429.24 L1602.4,429.22 L1603.9,429.20 L1605.4,429.18 L1606.9,429.16 L1608.4,429.15 L1609.9,429.13 L1611.4,429.11 L1612.9,429.09 L1614.4,429.07 L1615.9,429.05 L1617.4,429.03 L1618.9,429.01 L1620.4,428.99 L1621.9,428.98 L1623.4,428.96 L1624.9,428.94 L1626.4,428.92 L1627.9,428.90 L1629.4,428.88 L1630.9,428.86 L1632.4,428.85 L1633.9,428.83 L1635.4,428.81 L1636.9,428.80 L1638.4,428.78 L1639.9,428.77 L1641.4,428.76 L1642.9,428.75 L1644.4,428.74 L1645.9,428.73 L1647.4,428.73 L1648.9,428.72 L1650.4,428.72 L1651.9,428.71 L1653.4,428.70 L1654.9,428.70 L1656.4,428.69 L1657.9,428.69 L1659.4,428.68 L1660.9,428.68 L1662.4,428.67 L1663.9,428.67 L1665.4,428.66 L1666.9,428.66 L1668.4,428.65 L1669.9,428.65 L1671.4,428.64 L1672.9,428.64 L1674.4,428.63 L1675.9,428.63 L1677.4,428.62 L1678.9,428.62 L1680.4,428.61 L1681.9,428.61 L1683.4,428.60 L1684.9,428.60 L1686.4,428.59 L1687.9,428.59 L1689.4,428.58 L1690.9,428.58 L1692.4,428.57 L1693.9,428.57 L1695.4,428.56 L1696.9,428.56 L1698.4,428.55 L1699.9,428.55 L1701.4,428.54 L1702.9,428.54 L1704.4,428.53 L1705.9,428.53 L1707.4,428.52 L1708.9,428.52 L1710.4,428.51 L1711.9,428.51 L1713.4,428.50 L1714.9,428.50 L1716.4,428.49 L1717.9,428.49 L1719.4,428.48 L1720.9,428.48 L1722.4,428.47 L1723.9,428.47 L1725.4,428.46 L1726.9,428.46 L1728.4,428.45 L1729.9,428.45 L1731.4,428.44 L1732.9,428.44 L1734.4,428.43 L1735.9,428.43 L1737.4,428.42 L1738.9,428.42 L1740.4,428.41 L1741.9,428.41 L1743.4,428.40 L1744.9,428.40 L1746.4,428.39 L1747.9,428.39 L1749.4,428.38 L1750.9,428.38 L1752.4,428.37 L1753.9,428.37 L1755.4,428.36 L1756.9,428.36 L1758.4,428.35 L1759.9,428.35 L1761.4,428.34 L1762.9,428.34 L1764.4,428.33 L1765.9,428.33 L1767.4,428.32 L1768.9,428.32 L1770.4,428.31 L1771.9,428.31 L1773.4,428.30 L1774.9,428.30 L1776.4,428.29 L1777.9,428.29 L1779.4,428.28 L1780.9,428.28 L1782.4,428.27 L1783.9,428.27 L1785.4,428.26 L1786.9,428.26 L1788.4,428.25 L1789.9,428.25 L1791.4,428.24 L1792.9,428.24 L1794.4,428.23 L1795.9,428.23 L1797.4,428.22 L1798.9,428.22 L1800.4,428.21 L1801.9,428.21 L1803.4,428.20 L1804.9,428.20 L1806.4,428.19 L1807.9,428.19 L1809.4,428.18 L1810.9,428.18 L1812.4,428.17 L1813.9,428.17 L1815.4,428.16 L1816.9,428.16 L1818.4,428.15 L1819.9,428.15 L1821.4,428.14 L1822.9,428.13 L1824.4,428.13 L1825.9,428.12 L1827.4,428.12 L1828.9,428.11 L1830.4,428.11 L1831.9,428.10 L1833.3,428.10" fill="none" stroke="#5e7f37" stroke-width="4.6" stroke-linejoin="round" stroke-linecap="round" />
<rect x="951.5" y="646" width="3" height="517.3" fill="#e6e6e6"/>
<rect x="962.3" y="646" width="3" height="517.3" fill="#e6e6e6"/>
<line x1="193.30" y1="728.40" x2="193.30" y2="976.40" stroke="#d0d0d0" stroke-width="2" stroke-linecap="butt"/>
<line x1="184.30" y1="976.40" x2="193.30" y2="976.40" stroke="#d0d0d0" stroke-width="2" stroke-linecap="butt"/>
<line x1="184.30" y1="935.07" x2="193.30" y2="935.07" stroke="#d0d0d0" stroke-width="2" stroke-linecap="butt"/>
<line x1="184.30" y1="893.73" x2="193.30" y2="893.73" stroke="#d0d0d0" stroke-width="2" stroke-linecap="butt"/>
<line x1="184.30" y1="852.40" x2="193.30" y2="852.40" stroke="#d0d0d0" stroke-width="2" stroke-linecap="butt"/>
<line x1="184.30" y1="811.07" x2="193.30" y2="811.07" stroke="#d0d0d0" stroke-width="2" stroke-linecap="butt"/>
<line x1="184.30" y1="769.73" x2="193.30" y2="769.73" stroke="#d0d0d0" stroke-width="2" stroke-linecap="butt"/>
<line x1="184.30" y1="728.40" x2="193.30" y2="728.40" stroke="#d0d0d0" stroke-width="2" stroke-linecap="butt"/>
<line x1="184.30" y1="976.40" x2="908.40" y2="976.40" stroke="#d0d0d0" stroke-width="2" stroke-linecap="butt"/>
<line x1="193.30" y1="976.40" x2="193.30" y2="985.40" stroke="#d0d0d0" stroke-width="2" stroke-linecap="butt"/>
<line x1="229.06" y1="976.40" x2="229.06" y2="985.40" stroke="#d0d0d0" stroke-width="2" stroke-linecap="butt"/>
<line x1="264.81" y1="976.40" x2="264.81" y2="985.40" stroke="#d0d0d0" stroke-width="2" stroke-linecap="butt"/>
<line x1="300.56" y1="976.40" x2="300.56" y2="985.40" stroke="#d0d0d0" stroke-width="2" stroke-linecap="butt"/>
<line x1="336.32" y1="976.40" x2="336.32" y2="985.40" stroke="#d0d0d0" stroke-width="2" stroke-linecap="butt"/>
<line x1="372.07" y1="976.40" x2="372.07" y2="985.40" stroke="#d0d0d0" stroke-width="2" stroke-linecap="butt"/>
<line x1="407.83" y1="976.40" x2="407.83" y2="985.40" stroke="#d0d0d0" stroke-width="2" stroke-linecap="butt"/>
<line x1="443.58" y1="976.40" x2="443.58" y2="985.40" stroke="#d0d0d0" stroke-width="2" stroke-linecap="butt"/>
<line x1="479.34" y1="976.40" x2="479.34" y2="985.40" stroke="#d0d0d0" stroke-width="2" stroke-linecap="butt"/>
<line x1="515.10" y1="976.40" x2="515.10" y2="985.40" stroke="#d0d0d0" stroke-width="2" stroke-linecap="butt"/>
<line x1="550.85" y1="976.40" x2="550.85" y2="985.40" stroke="#d0d0d0" stroke-width="2" stroke-linecap="butt"/>
<line x1="586.61" y1="976.40" x2="586.61" y2="985.40" stroke="#d0d0d0" stroke-width="2" stroke-linecap="butt"/>
<line x1="622.36" y1="976.40" x2="622.36" y2="985.40" stroke="#d0d0d0" stroke-width="2" stroke-linecap="butt"/>
<line x1="658.12" y1="976.40" x2="658.12" y2="985.40" stroke="#d0d0d0" stroke-width="2" stroke-linecap="butt"/>
<line x1="693.87" y1="976.40" x2="693.87" y2="985.40" stroke="#d0d0d0" stroke-width="2" stroke-linecap="butt"/>
<line x1="729.62" y1="976.40" x2="729.62" y2="985.40" stroke="#d0d0d0" stroke-width="2" stroke-linecap="butt"/>
<line x1="765.38" y1="976.40" x2="765.38" y2="985.40" stroke="#d0d0d0" stroke-width="2" stroke-linecap="butt"/>
<line x1="801.13" y1="976.40" x2="801.13" y2="985.40" stroke="#d0d0d0" stroke-width="2" stroke-linecap="butt"/>
<line x1="836.89" y1="976.40" x2="836.89" y2="985.40" stroke="#d0d0d0" stroke-width="2" stroke-linecap="butt"/>
<line x1="872.64" y1="976.40" x2="872.64" y2="985.40" stroke="#d0d0d0" stroke-width="2" stroke-linecap="butt"/>
<line x1="908.40" y1="976.40" x2="908.40" y2="985.40" stroke="#d0d0d0" stroke-width="2" stroke-linecap="butt"/>
<text x="149.87" y="984.28" font-size="26.50" fill="#2f2f2f" stroke="#2f2f2f" stroke-width="0.60" >0</text>
<text x="135.13" y="942.95" font-size="26.50" fill="#2f2f2f" stroke="#2f2f2f" stroke-width="0.60" >20</text>
<text x="135.13" y="901.61" font-size="26.50" fill="#2f2f2f" stroke="#2f2f2f" stroke-width="0.60" >40</text>
<text x="135.13" y="860.28" font-size="26.50" fill="#2f2f2f" stroke="#2f2f2f" stroke-width="0.60" >60</text>
<text x="135.13" y="818.95" font-size="26.50" fill="#2f2f2f" stroke="#2f2f2f" stroke-width="0.60" >80</text>
<text x="120.40" y="777.61" font-size="26.50" fill="#2f2f2f" stroke="#2f2f2f" stroke-width="0.60" >100</text>
<text x="120.40" y="736.28" font-size="26.50" fill="#2f2f2f" stroke="#2f2f2f" stroke-width="0.60" >120</text>
<text x="185.93" y="1025.60" font-size="26.50" fill="#2f2f2f" stroke="#2f2f2f" stroke-width="0.60" >0</text>
<text x="357.34" y="1025.60" font-size="26.50" fill="#2f2f2f" stroke="#2f2f2f" stroke-width="0.60" >10</text>
<text x="536.12" y="1025.60" font-size="26.50" fill="#2f2f2f" stroke="#2f2f2f" stroke-width="0.60" >20</text>
<text x="714.89" y="1025.60" font-size="26.50" fill="#2f2f2f" stroke="#2f2f2f" stroke-width="0.60" >30</text>
<text x="893.67" y="1025.60" font-size="26.50" fill="#2f2f2f" stroke="#2f2f2f" stroke-width="0.60" >40</text>
<text x="209.80" y="763.60" font-size="26.76" fill="#2f2f2f" stroke="#2f2f2f" stroke-width="0.60" >T zona madera</text>
<text x="467.20" y="1070.00" font-size="28.57" fill="#2f2f2f" stroke="#2f2f2f" stroke-width="0.60" >Tiempo (min)</text>
<text transform="translate(102.15,960.00) rotate(-90)" x="0.00" y="0" font-size="28.06" fill="#2f2f2f" stroke="#2f2f2f" stroke-width="0.60">Temperatura (ºC)</text>
<rect transform="translate(102.15,960.00) rotate(-90)" x="174.65" y="-6.61" width="10.24" height="2.00" fill="#2f2f2f"/>
<line x1="116.00" y1="1133.40" x2="167.00" y2="1133.40" stroke="#618038" stroke-width="6" stroke-linecap="round"/>
<text x="173.40" y="1141.90" font-size="23.37" fill="#2f2f2f" stroke="#2f2f2f" stroke-width="0.60" >Holgura_0</text>
<line x1="310.00" y1="1133.40" x2="360.00" y2="1133.40" stroke="#d80606" stroke-width="6" stroke-linecap="round"/>
<text x="365.60" y="1141.90" font-size="23.36" fill="#2f2f2f" stroke="#2f2f2f" stroke-width="0.60" >Holgura_4</text>
<line x1="505.00" y1="1133.40" x2="554.00" y2="1133.40" stroke="#3f6ebd" stroke-width="6" stroke-linecap="round"/>
<text x="560.60" y="1141.90" font-size="23.44" fill="#2f2f2f" stroke="#2f2f2f" stroke-width="0.60" >Holgura_5_Cinta Intumescente</text>
<path d="M193.3,927.00 L195.3,926.97 L197.3,926.94 L199.3,926.91 L201.3,926.88 L203.3,926.85 L205.3,926.82 L207.3,926.79 L209.3,926.76 L211.3,926.73 L213.3,926.70 L215.3,926.67 L217.3,926.64 L219.3,926.61 L221.3,926.58 L223.3,926.55 L225.3,926.52 L227.3,926.49 L229.3,926.46 L231.3,926.42 L233.3,926.38 L235.3,926.32 L237.3,926.25 L239.3,926.14 L241.3,926.01 L243.3,925.84 L245.3,925.65 L247.3,925.44 L249.3,925.22 L251.3,924.99 L253.3,924.74 L255.3,924.48 L257.3,924.18 L259.3,923.86 L261.3,923.48 L263.3,923.07 L265.3,922.62 L267.3,922.15 L269.3,921.67 L271.3,921.17 L273.3,920.68 L275.3,920.19 L277.3,919.70 L279.3,919.22 L281.3,918.74 L283.3,918.28 L285.3,917.82 L287.3,917.36 L289.3,916.91 L291.3,916.46 L293.3,916.01 L295.3,915.56 L297.3,915.11 L299.3,914.66 L301.3,914.21 L303.3,913.76 L305.3,913.31 L307.3,912.86 L309.3,912.41 L311.3,911.96 L313.3,911.51 L315.3,911.06 L317.3,910.61 L319.3,910.16 L321.3,909.71 L323.3,909.26 L325.3,908.81 L327.3,908.36 L329.3,907.91 L331.3,907.46 L333.3,907.02 L335.3,906.58 L337.3,906.15 L339.3,905.74 L341.3,905.34 L343.3,904.96 L345.3,904.59 L347.3,904.23 L349.3,903.88 L351.3,903.52 L353.3,903.17 L355.3,902.82 L357.3,902.46 L359.3,902.10 L361.3,901.74 L363.3,901.37 L365.3,901.00 L367.3,900.63 L369.3,900.26 L371.3,899.88 L373.3,899.51 L375.3,899.13 L377.3,898.76 L379.3,898.38 L381.3,898.01 L383.3,897.63 L385.3,897.26 L387.3,896.88 L389.3,896.50 L391.3,896.13 L393.3,895.75 L395.3,895.36 L397.3,894.96 L399.3,894.55 L401.3,894.12 L403.3,893.68 L405.3,893.22 L407.3,892.76 L409.3,892.29 L411.3,891.82 L413.3,891.34 L415.3,890.87 L417.3,890.39 L419.3,889.92 L421.3,889.44 L423.3,888.97 L425.3,888.49 L427.3,888.02 L429.3,887.54 L431.3,887.07 L433.3,886.60 L435.3,886.14 L437.3,885.68 L439.3,885.24 L441.3,884.81 L443.3,884.40 L445.3,884.00 L447.3,883.60 L449.3,883.21 L451.3,882.83 L453.3,882.44 L455.3,882.05 L457.3,881.67 L459.3,881.28 L461.3,880.90 L463.3,880.51 L465.3,880.13 L467.3,879.74 L469.3,879.36 L471.3,878.97 L473.3,878.58 L475.3,878.18 L477.3,877.78 L479.3,877.36 L481.3,876.92 L483.3,876.47 L485.3,876.01 L487.3,875.54 L489.3,875.07 L491.3,874.59 L493.3,874.11 L495.3,873.63 L497.3,873.15 L499.3,872.67 L501.3,872.19 L503.3,871.71 L505.3,871.23 L507.3,870.75 L509.3,870.27 L511.3,869.79 L513.3,869.32 L515.3,868.85 L517.3,868.39 L519.3,867.95 L521.3,867.52 L523.3,867.10 L525.3,866.70 L527.3,866.30 L529.3,865.91 L531.3,865.53 L533.3,865.14 L535.3,864.75 L537.3,864.37 L539.3,863.98 L541.3,863.60 L543.3,863.21 L545.3,862.83 L547.3,862.44 L549.3,862.06 L551.3,861.67 L553.3,861.29 L555.3,860.90 L557.3,860.51 L559.3,860.11 L561.3,859.71 L563.3,859.30 L565.3,858.89 L567.3,858.48 L569.3,858.07 L571.3,857.65 L573.3,857.24 L575.3,856.83 L577.3,856.41 L579.3,856.00 L581.3,855.58 L583.3,855.17 L585.3,854.75 L587.3,854.34 L589.3,853.92 L591.3,853.51 L593.3,853.09 L595.3,852.68 L597.3,852.27 L599.3,851.87 L601.3,851.47 L603.3,851.08 L605.3,850.69 L607.3,850.30 L609.3,849.91 L611.3,849.53 L613.3,849.14 L615.3,848.75 L617.3,848.37 L619.3,847.98 L621.3,847.60 L623.3,847.21 L625.3,846.83 L627.3,846.44 L629.3,846.06 L631.3,845.67 L633.3,845.28 L635.3,844.89 L637.3,844.50 L639.3,844.09 L641.3,843.68 L643.3,843.26 L645.3,842.84 L647.3,842.41 L649.3,841.98 L651.3,841.54 L653.3,841.11 L655.3,840.67 L657.3,840.24 L659.3,839.80 L661.3,839.37 L663.3,838.93 L665.3,838.50 L667.3,838.06 L669.3,837.63 L671.3,837.19 L673.3,836.76 L675.3,836.32 L677.3,835.89 L679.3,835.46 L681.3,835.02 L683.3,834.59 L685.3,834.16 L687.3,833.73 L689.3,833.30 L691.3,832.87 L693.3,832.44 L695.3,832.01 L697.3,831.58 L699.3,831.15 L701.3,830.72 L703.3,830.29 L705.3,829.86 L707.3,829.43 L709.3,829.00 L711.3,828.57 L713.3,828.13 L715.3,827.69 L717.3,827.25 L719.3,826.79 L721.3,826.33 L723.3,825.85 L725.3,825.36 L727.3,824.87 L729.3,824.37 L731.3,823.87 L733.3,823.37 L735.3,822.87 L737.3,822.38 L739.3,821.88 L741.3,821.38 L743.3,820.88 L745.3,820.38 L747.3,819.88 L749.3,819.38 L751.3,818.88 L753.3,818.39 L755.3,817.91 L757.3,817.44 L759.3,816.98 L761.3,816.55 L763.3,816.14 L765.3,815.74 L767.3,815.36 L769.3,814.98 L771.3,814.61 L773.3,814.24 L775.3,813.87 L777.3,813.50 L779.3,813.13 L781.3,812.76 L783.3,812.39 L785.3,812.02 L787.3,811.65 L789.3,811.28 L791.3,810.91 L793.3,810.54 L795.3,810.17 L797.3,809.81 L799.3,809.44 L801.3,809.08 L803.3,808.72 L805.3,808.36 L807.3,808.01 L809.3,807.65 L811.3,807.29 L813.3,806.94 L815.3,806.58 L817.3,806.23 L819.3,805.87 L821.3,805.52 L823.3,805.16 L825.3,804.81 L827.3,804.45 L829.3,804.10 L831.3,803.75 L833.3,803.40 L835.3,803.05 L837.3,802.71 L839.3,802.37 L841.3,802.05 L843.3,801.74 L845.3,801.43 L847.3,801.13 L849.3,800.83 L851.3,800.53 L853.3,800.24 L855.3,799.94 L857.3,799.65 L859.3,799.35 L861.3,799.06 L863.3,798.76 L865.3,798.47 L867.3,798.17 L869.3,797.88 L871.3,797.58 L873.3,797.29 L875.3,797.00 L877.3,796.72 L879.3,796.44 L881.3,796.16 L883.3,795.90 L885.3,795.63 L887.3,795.37 L889.3,795.12 L891.3,794.86 L893.3,794.61 L895.3,794.35 L897.3,794.10 L899.3,793.85 L901.3,793.60 L903.3,793.36 L905.3,793.13 L907.3,792.90 L908.3,792.69" fill="none" stroke="#618038" stroke-width="5.5" stroke-linejoin="round" stroke-linecap="round" style="stroke-linecap:butt"/>
<path d="M193.3,926.50 L195.3,926.16 L197.3,925.83 L199.3,925.49 L201.3,925.15 L203.3,924.81 L205.3,924.48 L207.3,924.14 L209.3,923.80 L211.3,923.46 L213.3,923.12 L215.3,922.78 L217.3,922.43 L219.3,922.07 L221.3,921.70 L223.3,921.32 L225.3,920.93 L227.3,920.53 L229.3,920.13 L231.3,919.73 L233.3,919.31 L235.3,918.87 L237.3,918.40 L239.3,917.89 L241.3,917.33 L243.3,916.73 L245.3,916.09 L247.3,915.42 L249.3,914.74 L251.3,914.04 L253.3,913.34 L255.3,912.64 L257.3,911.94 L259.3,911.24 L261.3,910.54 L263.3,909.84 L265.3,909.15 L267.3,908.45 L269.3,907.75 L271.3,907.05 L273.3,906.37 L275.3,905.69 L277.3,905.04 L279.3,904.41 L281.3,903.82 L283.3,903.25 L285.3,902.71 L287.3,902.19 L289.3,901.68 L291.3,901.17 L293.3,900.66 L295.3,900.14 L297.3,899.61 L299.3,899.05 L301.3,898.47 L303.3,897.87 L305.3,897.25 L307.3,896.62 L309.3,895.97 L311.3,895.33 L313.3,894.68 L315.3,894.03 L317.3,893.38 L319.3,892.73 L321.3,892.08 L323.3,891.43 L325.3,890.78 L327.3,890.13 L329.3,889.48 L331.3,888.82 L333.3,888.17 L335.3,887.51 L337.3,886.84 L339.3,886.16 L341.3,885.48 L343.3,884.77 L345.3,884.06 L347.3,883.35 L349.3,882.63 L351.3,881.90 L353.3,881.18 L355.3,880.46 L357.3,879.73 L359.3,879.01 L361.3,878.30 L363.3,877.58 L365.3,876.86 L367.3,876.15 L369.3,875.44 L371.3,874.72 L373.3,874.01 L375.3,873.30 L377.3,872.59 L379.3,871.87 L381.3,871.16 L383.3,870.45 L385.3,869.74 L387.3,869.03 L389.3,868.31 L391.3,867.61 L393.3,866.91 L395.3,866.22 L397.3,865.56 L399.3,864.92 L401.3,864.31 L403.3,863.74 L405.3,863.19 L407.3,862.65 L409.3,862.13 L411.3,861.62 L413.3,861.11 L415.3,860.60 L417.3,860.09 L419.3,859.58 L421.3,859.07 L423.3,858.56 L425.3,858.05 L427.3,857.54 L429.3,857.03 L431.3,856.52 L433.3,856.01 L435.3,855.51 L437.3,855.02 L439.3,854.53 L441.3,854.05 L443.3,853.58 L445.3,853.12 L447.3,852.66 L449.3,852.21 L451.3,851.76 L453.3,851.31 L455.3,850.86 L457.3,850.41 L459.3,849.96 L461.3,849.51 L463.3,849.06 L465.3,848.61 L467.3,848.16 L469.3,847.71 L471.3,847.26 L473.3,846.81 L475.3,846.36 L477.3,845.91 L479.3,845.46 L481.3,845.01 L483.3,844.56 L485.3,844.11 L487.3,843.66 L489.3,843.21 L491.3,842.76 L493.3,842.31 L495.3,841.86 L497.3,841.41 L499.3,840.96 L501.3,840.51 L503.3,840.06 L505.3,839.61 L507.3,839.16 L509.3,838.71 L511.3,838.26 L513.3,837.81 L515.3,837.37 L517.3,836.94 L519.3,836.52 L521.3,836.10 L523.3,835.70 L525.3,835.31 L527.3,834.92 L529.3,834.54 L531.3,834.15 L533.3,833.77 L535.3,833.39 L537.3,833.01 L539.3,832.63 L541.3,832.25 L543.3,831.87 L545.3,831.49 L547.3,831.11 L549.3,830.73 L551.3,830.35 L553.3,829.97 L555.3,829.59 L557.3,829.20 L559.3,828.82 L561.3,828.43 L563.3,828.03 L565.3,827.64 L567.3,827.24 L569.3,826.84 L571.3,826.44 L573.3,826.04 L575.3,825.64 L577.3,825.24 L579.3,824.84 L581.3,824.44 L583.3,824.04 L585.3,823.64 L587.3,823.24 L589.3,822.84 L591.3,822.44 L593.3,822.04 L595.3,821.64 L597.3,821.24 L599.3,820.84 L601.3,820.44 L603.3,820.04 L605.3,819.64 L607.3,819.24 L609.3,818.84 L611.3,818.44 L613.3,818.04 L615.3,817.64 L617.3,817.24 L619.3,816.84 L621.3,816.44 L623.3,816.04 L625.3,815.64 L627.3,815.24 L629.3,814.84 L631.3,814.44 L633.3,814.04 L635.3,813.64 L637.3,813.24 L639.3,812.84 L641.3,812.44 L643.3,812.04 L645.3,811.64 L647.3,811.24 L649.3,810.84 L651.3,810.44 L653.3,810.04 L655.3,809.64 L657.3,809.24 L659.3,808.84 L661.3,808.44 L663.3,808.04 L665.3,807.64 L667.3,807.24 L669.3,806.84 L671.3,806.44 L673.3,806.05 L675.3,805.66 L677.3,805.29 L679.3,804.92 L681.3,804.58 L683.3,804.24 L685.3,803.92 L687.3,803.61 L689.3,803.31 L691.3,803.01 L693.3,802.71 L695.3,802.41 L697.3,802.11 L699.3,801.81 L701.3,801.50 L703.3,801.20 L705.3,800.91 L707.3,800.61 L709.3,800.31 L711.3,800.01 L713.3,799.72 L715.3,799.44 L717.3,799.17 L719.3,798.91 L721.3,798.68 L723.3,798.47 L725.3,798.27 L727.3,798.09 L729.3,797.91 L731.3,797.74 L733.3,797.57 L735.3,797.40 L737.3,797.23 L739.3,797.06 L741.3,796.89 L743.3,796.72 L745.3,796.55 L747.3,796.38 L749.3,796.21 L751.3,796.04 L753.3,795.87 L755.3,795.69 L757.3,795.52 L759.3,795.33 L761.3,795.15 L763.3,794.96 L765.3,794.76 L767.3,794.57 L769.3,794.37 L771.3,794.17 L773.3,793.97 L775.3,793.77 L777.3,793.57 L779.3,793.37 L781.3,793.17 L783.3,792.97 L785.3,792.77 L787.3,792.57 L789.3,792.37 L791.3,792.17 L793.3,791.96 L795.3,791.76 L797.3,791.54 L799.3,791.32 L801.3,791.10 L803.3,790.86 L805.3,790.61 L807.3,790.36 L809.3,790.11 L811.3,789.86 L813.3,789.60 L815.3,789.35 L817.3,789.09 L819.3,788.84 L821.3,788.58 L823.3,788.33 L825.3,788.07 L827.3,787.82 L829.3,787.56 L831.3,787.31 L833.3,787.05 L835.3,786.78 L837.3,786.51 L839.3,786.23 L841.3,785.94 L843.3,785.64 L845.3,785.33 L847.3,785.01 L849.3,784.69 L851.3,784.36 L853.3,784.04 L855.3,783.71 L857.3,783.39 L859.3,783.06 L861.3,782.74 L863.3,782.41 L865.3,782.09 L867.3,781.76 L869.3,781.44 L871.3,781.11 L873.3,780.78 L875.3,780.44 L877.3,780.09 L879.3,779.73 L881.3,779.35 L883.3,778.96 L885.3,778.56 L887.3,778.14 L889.3,777.73 L891.3,777.30 L893.3,776.88 L895.3,776.46 L897.3,776.04 L899.3,775.62 L901.3,775.20 L903.3,774.80 L905.3,774.41 L907.3,774.04 L908.3,773.68" fill="none" stroke="#d80606" stroke-width="5.5" stroke-linejoin="round" stroke-linecap="round" style="stroke-linecap:butt"/>
<path d="M193.3,927.00 L195.3,926.97 L197.3,926.94 L199.3,926.91 L201.3,926.88 L203.3,926.85 L205.3,926.82 L207.3,926.79 L209.3,926.76 L211.3,926.73 L213.3,926.70 L215.3,926.67 L217.3,926.64 L219.3,926.61 L221.3,926.58 L223.3,926.55 L225.3,926.52 L227.3,926.49 L229.3,926.46 L231.3,926.42 L233.3,926.38 L235.3,926.32 L237.3,926.25 L239.3,926.14 L241.3,926.01 L243.3,925.84 L245.3,925.65 L247.3,925.44 L249.3,925.22 L251.3,924.99 L253.3,924.74 L255.3,924.48 L257.3,924.18 L259.3,923.86 L261.3,923.48 L263.3,923.07 L265.3,922.62 L267.3,922.15 L269.3,921.67 L271.3,921.17 L273.3,920.68 L275.3,920.19 L277.3,919.70 L279.3,919.22 L281.3,918.74 L283.3,918.28 L285.3,917.82 L287.3,917.36 L289.3,916.91 L291.3,916.46 L293.3,916.01 L295.3,915.56 L297.3,915.11 L299.3,914.66 L301.3,914.21 L303.3,913.76 L305.3,913.31 L307.3,912.86 L309.3,912.41 L311.3,911.96 L313.3,911.51 L315.3,911.06 L317.3,910.61 L319.3,910.16 L321.3,909.71 L323.3,909.26 L325.3,908.81 L327.3,908.36 L329.3,907.91 L331.3,907.46 L333.3,907.03 L335.3,906.60 L337.3,906.19 L339.3,905.80 L341.3,905.45 L343.3,905.11 L345.3,904.80 L347.3,904.51 L349.3,904.23 L351.3,903.95 L353.3,903.67 L355.3,903.38 L357.3,903.09 L359.3,902.79 L361.3,902.49 L363.3,902.17 L365.3,901.84 L367.3,901.51 L369.3,901.18 L371.3,900.84 L373.3,900.51 L375.3,900.17 L377.3,899.83 L379.3,899.49 L381.3,899.16 L383.3,898.82 L385.3,898.48 L387.3,898.14 L389.3,897.81 L391.3,897.47 L393.3,897.13 L395.3,896.78 L397.3,896.44 L399.3,896.09 L401.3,895.73 L403.3,895.37 L405.3,895.00 L407.3,894.63 L409.3,894.26 L411.3,893.88 L413.3,893.51 L415.3,893.13 L417.3,892.76 L419.3,892.38 L421.3,892.01 L423.3,891.63 L425.3,891.26 L427.3,890.88 L429.3,890.51 L431.3,890.13 L433.3,889.77 L435.3,889.40 L437.3,889.05 L439.3,888.70 L441.3,888.37 L443.3,888.05 L445.3,887.75 L447.3,887.45 L449.3,887.15 L451.3,886.86 L453.3,886.57 L455.3,886.28 L457.3,885.99 L459.3,885.70 L461.3,885.41 L463.3,885.12 L465.3,884.83 L467.3,884.54 L469.3,884.25 L471.3,883.96 L473.3,883.66 L475.3,883.36 L477.3,883.04 L479.3,882.71 L481.3,882.36 L483.3,882.00 L485.3,881.62 L487.3,881.23 L489.3,880.84 L491.3,880.44 L493.3,880.04 L495.3,879.64 L497.3,879.24 L499.3,878.84 L501.3,878.44 L503.3,878.04 L505.3,877.64 L507.3,877.24 L509.3,876.84 L511.3,876.44 L513.3,876.05 L515.3,875.66 L517.3,875.29 L519.3,874.92 L521.3,874.58 L523.3,874.24 L525.3,873.92 L527.3,873.61 L529.3,873.31 L531.3,873.01 L533.3,872.71 L535.3,872.41 L537.3,872.11 L539.3,871.80 L541.3,871.50 L543.3,871.21 L545.3,870.90 L547.3,870.60 L549.3,870.30 L551.3,870.00 L553.3,869.70 L555.3,869.40 L557.3,869.09 L559.3,868.78 L561.3,868.46 L563.3,868.13 L565.3,867.81 L567.3,867.47 L569.3,867.14 L571.3,866.81 L573.3,866.47 L575.3,866.14 L577.3,865.80 L579.3,865.47 L581.3,865.13 L583.3,864.80 L585.3,864.46 L587.3,864.13 L589.3,863.79 L591.3,863.46 L593.3,863.12 L595.3,862.78 L597.3,862.44 L599.3,862.09 L601.3,861.74 L603.3,861.39 L605.3,861.03 L607.3,860.67 L609.3,860.30 L611.3,859.94 L613.3,859.57 L615.3,859.21 L617.3,858.84 L619.3,858.48 L621.3,858.11 L623.3,857.75 L625.3,857.38 L627.3,857.02 L629.3,856.65 L631.3,856.28 L633.3,855.91 L635.3,855.53 L637.3,855.14 L639.3,854.74 L641.3,854.32 L643.3,853.88 L645.3,853.43 L647.3,852.98 L649.3,852.51 L651.3,852.04 L653.3,851.57 L655.3,851.10 L657.3,850.63 L659.3,850.16 L661.3,849.69 L663.3,849.22 L665.3,848.75 L667.3,848.29 L669.3,847.82 L671.3,847.35 L673.3,846.90 L675.3,846.46 L677.3,846.05 L679.3,845.66 L681.3,845.32 L683.3,845.01 L685.3,844.74 L687.3,844.48 L689.3,844.24 L691.3,844.00 L693.3,843.77 L695.3,843.54 L697.3,843.31 L699.3,843.08 L701.3,842.85 L703.3,842.62 L705.3,842.39 L707.3,842.16 L709.3,841.93 L711.3,841.70 L713.3,841.46 L715.3,841.22 L717.3,840.98 L719.3,840.72 L721.3,840.46 L723.3,840.18 L725.3,839.89 L727.3,839.60 L729.3,839.30 L731.3,839.00 L733.3,838.70 L735.3,838.40 L737.3,838.11 L739.3,837.81 L741.3,837.51 L743.3,837.21 L745.3,836.91 L747.3,836.61 L749.3,836.31 L751.3,836.01 L753.3,835.72 L755.3,835.44 L757.3,835.17 L759.3,834.91 L761.3,834.68 L763.3,834.47 L765.3,834.27 L767.3,834.09 L769.3,833.91 L771.3,833.74 L773.3,833.57 L775.3,833.40 L777.3,833.23 L779.3,833.06 L781.3,832.89 L783.3,832.72 L785.3,832.55 L787.3,832.38 L789.3,832.21 L791.3,832.04 L793.3,831.87 L795.3,831.69 L797.3,831.51 L799.3,831.33 L801.3,831.14 L803.3,830.95 L805.3,830.75 L807.3,830.55 L809.3,830.35 L811.3,830.14 L813.3,829.94 L815.3,829.73 L817.3,829.53 L819.3,829.32 L821.3,829.12 L823.3,828.91 L825.3,828.71 L827.3,828.50 L829.3,828.30 L831.3,828.09 L833.3,827.88 L835.3,827.67 L837.3,827.46 L839.3,827.24 L841.3,827.01 L843.3,826.78 L845.3,826.54 L847.3,826.30 L849.3,826.06 L851.3,825.82 L853.3,825.57 L855.3,825.33 L857.3,825.08 L859.3,824.84 L861.3,824.59 L863.3,824.35 L865.3,824.10 L867.3,823.86 L869.3,823.61 L871.3,823.37 L873.3,823.13 L875.3,822.90 L877.3,822.67 L879.3,822.45 L881.3,822.25 L883.3,822.06 L885.3,821.88 L887.3,821.71 L889.3,821.55 L891.3,821.38 L893.3,821.22 L895.3,821.06 L897.3,820.90 L899.3,820.73 L901.3,820.58 L903.3,820.42 L905.3,820.27 L907.3,820.13 L908.3,819.99" fill="none" stroke="#3f6ebd" stroke-width="5.5" stroke-linejoin="round" stroke-linecap="round" style="stroke-linecap:butt"/>
<line x1="1117.30" y1="728.60" x2="1117.30" y2="976.40" stroke="#d0d0d0" stroke-width="2" stroke-linecap="butt"/>
<line x1="1109.30" y1="976.40" x2="1117.30" y2="976.40" stroke="#d0d0d0" stroke-width="2" stroke-linecap="butt"/>
<line x1="1109.30" y1="935.10" x2="1117.30" y2="935.10" stroke="#d0d0d0" stroke-width="2" stroke-linecap="butt"/>
<line x1="1109.30" y1="893.80" x2="1117.30" y2="893.80" stroke="#d0d0d0" stroke-width="2" stroke-linecap="butt"/>
<line x1="1109.30" y1="852.50" x2="1117.30" y2="852.50" stroke="#d0d0d0" stroke-width="2" stroke-linecap="butt"/>
<line x1="1109.30" y1="811.20" x2="1117.30" y2="811.20" stroke="#d0d0d0" stroke-width="2" stroke-linecap="butt"/>
<line x1="1109.30" y1="769.90" x2="1117.30" y2="769.90" stroke="#d0d0d0" stroke-width="2" stroke-linecap="butt"/>
<line x1="1109.30" y1="728.60" x2="1117.30" y2="728.60" stroke="#d0d0d0" stroke-width="2" stroke-linecap="butt"/>
<line x1="1109.30" y1="976.40" x2="1828.20" y2="976.40" stroke="#d0d0d0" stroke-width="2" stroke-linecap="butt"/>
<line x1="1117.30" y1="976.40" x2="1117.30" y2="986.40" stroke="#d0d0d0" stroke-width="2" stroke-linecap="butt"/>
<line x1="1135.07" y1="976.40" x2="1135.07" y2="984.40" stroke="#d0d0d0" stroke-width="2" stroke-linecap="butt"/>
<line x1="1152.85" y1="976.40" x2="1152.85" y2="984.40" stroke="#d0d0d0" stroke-width="2" stroke-linecap="butt"/>
<line x1="1170.62" y1="976.40" x2="1170.62" y2="984.40" stroke="#d0d0d0" stroke-width="2" stroke-linecap="butt"/>
<line x1="1188.39" y1="976.40" x2="1188.39" y2="984.40" stroke="#d0d0d0" stroke-width="2" stroke-linecap="butt"/>
<line x1="1206.16" y1="976.40" x2="1206.16" y2="986.40" stroke="#d0d0d0" stroke-width="2" stroke-linecap="butt"/>
<line x1="1223.93" y1="976.40" x2="1223.93" y2="984.40" stroke="#d0d0d0" stroke-width="2" stroke-linecap="butt"/>
<line x1="1241.71" y1="976.40" x2="1241.71" y2="984.40" stroke="#d0d0d0" stroke-width="2" stroke-linecap="butt"/>
<line x1="1259.48" y1="976.40" x2="1259.48" y2="984.40" stroke="#d0d0d0" stroke-width="2" stroke-linecap="butt"/>
<line x1="1277.25" y1="976.40" x2="1277.25" y2="984.40" stroke="#d0d0d0" stroke-width="2" stroke-linecap="butt"/>
<line x1="1295.03" y1="976.40" x2="1295.03" y2="986.40" stroke="#d0d0d0" stroke-width="2" stroke-linecap="butt"/>
<line x1="1312.80" y1="976.40" x2="1312.80" y2="984.40" stroke="#d0d0d0" stroke-width="2" stroke-linecap="butt"/>
<line x1="1330.57" y1="976.40" x2="1330.57" y2="984.40" stroke="#d0d0d0" stroke-width="2" stroke-linecap="butt"/>
<line x1="1348.34" y1="976.40" x2="1348.34" y2="984.40" stroke="#d0d0d0" stroke-width="2" stroke-linecap="butt"/>
<line x1="1366.12" y1="976.40" x2="1366.12" y2="984.40" stroke="#d0d0d0" stroke-width="2" stroke-linecap="butt"/>
<line x1="1383.89" y1="976.40" x2="1383.89" y2="986.40" stroke="#d0d0d0" stroke-width="2" stroke-linecap="butt"/>
<line x1="1401.66" y1="976.40" x2="1401.66" y2="984.40" stroke="#d0d0d0" stroke-width="2" stroke-linecap="butt"/>
<line x1="1419.43" y1="976.40" x2="1419.43" y2="984.40" stroke="#d0d0d0" stroke-width="2" stroke-linecap="butt"/>
<line x1="1437.20" y1="976.40" x2="1437.20" y2="984.40" stroke="#d0d0d0" stroke-width="2" stroke-linecap="butt"/>
<line x1="1454.98" y1="976.40" x2="1454.98" y2="984.40" stroke="#d0d0d0" stroke-width="2" stroke-linecap="butt"/>
<line x1="1472.75" y1="976.40" x2="1472.75" y2="986.40" stroke="#d0d0d0" stroke-width="2" stroke-linecap="butt"/>
<line x1="1490.52" y1="976.40" x2="1490.52" y2="984.40" stroke="#d0d0d0" stroke-width="2" stroke-linecap="butt"/>
<line x1="1508.30" y1="976.40" x2="1508.30" y2="984.40" stroke="#d0d0d0" stroke-width="2" stroke-linecap="butt"/>
<line x1="1526.07" y1="976.40" x2="1526.07" y2="984.40" stroke="#d0d0d0" stroke-width="2" stroke-linecap="butt"/>
<line x1="1543.84" y1="976.40" x2="1543.84" y2="984.40" stroke="#d0d0d0" stroke-width="2" stroke-linecap="butt"/>
<line x1="1561.61" y1="976.40" x2="1561.61" y2="986.40" stroke="#d0d0d0" stroke-width="2" stroke-linecap="butt"/>
<line x1="1579.38" y1="976.40" x2="1579.38" y2="984.40" stroke="#d0d0d0" stroke-width="2" stroke-linecap="butt"/>
<line x1="1597.16" y1="976.40" x2="1597.16" y2="984.40" stroke="#d0d0d0" stroke-width="2" stroke-linecap="butt"/>
<line x1="1614.93" y1="976.40" x2="1614.93" y2="984.40" stroke="#d0d0d0" stroke-width="2" stroke-linecap="butt"/>
<line x1="1632.70" y1="976.40" x2="1632.70" y2="984.40" stroke="#d0d0d0" stroke-width="2" stroke-linecap="butt"/>
<line x1="1650.47" y1="976.40" x2="1650.47" y2="986.40" stroke="#d0d0d0" stroke-width="2" stroke-linecap="butt"/>
<line x1="1668.25" y1="976.40" x2="1668.25" y2="984.40" stroke="#d0d0d0" stroke-width="2" stroke-linecap="butt"/>
<line x1="1686.02" y1="976.40" x2="1686.02" y2="984.40" stroke="#d0d0d0" stroke-width="2" stroke-linecap="butt"/>
<line x1="1703.79" y1="976.40" x2="1703.79" y2="984.40" stroke="#d0d0d0" stroke-width="2" stroke-linecap="butt"/>
<line x1="1721.57" y1="976.40" x2="1721.57" y2="984.40" stroke="#d0d0d0" stroke-width="2" stroke-linecap="butt"/>
<line x1="1739.34" y1="976.40" x2="1739.34" y2="986.40" stroke="#d0d0d0" stroke-width="2" stroke-linecap="butt"/>
<line x1="1757.11" y1="976.40" x2="1757.11" y2="984.40" stroke="#d0d0d0" stroke-width="2" stroke-linecap="butt"/>
<line x1="1774.88" y1="976.40" x2="1774.88" y2="984.40" stroke="#d0d0d0" stroke-width="2" stroke-linecap="butt"/>
<line x1="1792.66" y1="976.40" x2="1792.66" y2="984.40" stroke="#d0d0d0" stroke-width="2" stroke-linecap="butt"/>
<line x1="1810.43" y1="976.40" x2="1810.43" y2="984.40" stroke="#d0d0d0" stroke-width="2" stroke-linecap="butt"/>
<line x1="1828.20" y1="976.40" x2="1828.20" y2="986.40" stroke="#d0d0d0" stroke-width="2" stroke-linecap="butt"/>
<text x="1073.47" y="984.28" font-size="26.50" fill="#2f2f2f" stroke="#2f2f2f" stroke-width="0.60" >0</text>
<text x="1044.00" y="942.98" font-size="26.50" fill="#2f2f2f" stroke="#2f2f2f" stroke-width="0.60" >100</text>
<text x="1044.00" y="901.68" font-size="26.50" fill="#2f2f2f" stroke="#2f2f2f" stroke-width="0.60" >200</text>
<text x="1044.00" y="860.38" font-size="26.50" fill="#2f2f2f" stroke="#2f2f2f" stroke-width="0.60" >300</text>
<text x="1044.00" y="819.08" font-size="26.50" fill="#2f2f2f" stroke="#2f2f2f" stroke-width="0.60" >400</text>
<text x="1044.00" y="777.78" font-size="26.50" fill="#2f2f2f" stroke="#2f2f2f" stroke-width="0.60" >500</text>
<text x="1044.00" y="736.48" font-size="26.50" fill="#2f2f2f" stroke="#2f2f2f" stroke-width="0.60" >600</text>
<text x="1109.93" y="1025.60" font-size="26.50" fill="#2f2f2f" stroke="#2f2f2f" stroke-width="0.60" >0</text>
<text x="1198.80" y="1025.60" font-size="26.50" fill="#2f2f2f" stroke="#2f2f2f" stroke-width="0.60" >5</text>
<text x="1280.29" y="1025.60" font-size="26.50" fill="#2f2f2f" stroke="#2f2f2f" stroke-width="0.60" >10</text>
<text x="1369.15" y="1025.60" font-size="26.50" fill="#2f2f2f" stroke="#2f2f2f" stroke-width="0.60" >15</text>
<text x="1458.02" y="1025.60" font-size="26.50" fill="#2f2f2f" stroke="#2f2f2f" stroke-width="0.60" >20</text>
<text x="1546.88" y="1025.60" font-size="26.50" fill="#2f2f2f" stroke="#2f2f2f" stroke-width="0.60" >25</text>
<text x="1635.74" y="1025.60" font-size="26.50" fill="#2f2f2f" stroke="#2f2f2f" stroke-width="0.60" >30</text>
<text x="1724.60" y="1025.60" font-size="26.50" fill="#2f2f2f" stroke="#2f2f2f" stroke-width="0.60" >35</text>
<text x="1813.47" y="1025.60" font-size="26.50" fill="#2f2f2f" stroke="#2f2f2f" stroke-width="0.60" >40</text>
<text x="1133.40" y="763.60" font-size="27.89" fill="#2f2f2f" stroke="#2f2f2f" stroke-width="0.60" >T conexión metal</text>
<text x="1370.00" y="1081.90" font-size="28.57" fill="#2f2f2f" stroke="#2f2f2f" stroke-width="0.60" >Tiempo (min)</text>
<text transform="translate(1025.45,960.00) rotate(-90)" x="0.00" y="0" font-size="28.04" fill="#2f2f2f" stroke="#2f2f2f" stroke-width="0.60">Temperatura (ºC)</text>
<rect transform="translate(1025.45,960.00) rotate(-90)" x="174.57" y="-6.61" width="10.24" height="2.00" fill="#2f2f2f"/>
<line x1="1039.00" y1="1134.40" x2="1090.00" y2="1134.40" stroke="#618038" stroke-width="6" stroke-linecap="round"/>
<text x="1096.00" y="1141.90" font-size="23.49" fill="#2f2f2f" stroke="#2f2f2f" stroke-width="0.60" >Holgura_0</text>
<line x1="1232.00" y1="1134.40" x2="1282.00" y2="1134.40" stroke="#d80606" stroke-width="6" stroke-linecap="round"/>
<text x="1287.00" y="1141.90" font-size="23.41" fill="#2f2f2f" stroke="#2f2f2f" stroke-width="0.60" >Holgura_4</text>
<line x1="1424.00" y1="1134.40" x2="1474.00" y2="1134.40" stroke="#3f6ebd" stroke-width="6" stroke-linecap="round"/>
<text x="1480.60" y="1141.90" font-size="23.44" fill="#2f2f2f" stroke="#2f2f2f" stroke-width="0.60" >Holgura_5_Cinta Intumescente</text>
<path d="M1133.1,966.60 L1135.1,966.56 L1137.1,966.52 L1139.1,966.48 L1141.1,966.43 L1143.1,966.39 L1145.1,966.34 L1147.1,966.27 L1149.1,966.10 L1151.1,965.69 L1153.1,964.92 L1155.1,963.79 L1157.1,962.45 L1159.1,961.17 L1161.1,960.10 L1163.1,959.28 L1165.1,958.63 L1167.1,958.05 L1169.1,957.50 L1171.1,956.95 L1173.1,956.40 L1175.1,955.84 L1177.1,955.29 L1179.1,954.71 L1181.1,954.12 L1183.1,953.51 L1185.1,952.88 L1187.1,952.25 L1189.1,951.62 L1191.1,950.99 L1193.1,950.35 L1195.1,949.72 L1197.1,949.09 L1199.1,948.45 L1201.1,947.82 L1203.1,947.19 L1205.1,946.56 L1207.1,945.95 L1209.1,945.39 L1211.1,944.89 L1213.1,944.45 L1215.1,944.06 L1217.1,943.68 L1219.1,943.31 L1221.1,942.93 L1223.1,942.56 L1225.1,942.19 L1227.1,941.82 L1229.1,941.44 L1231.1,941.07 L1233.1,940.70 L1235.1,940.33 L1237.1,939.95 L1239.1,939.58 L1241.1,939.23 L1243.1,938.90 L1245.1,938.64 L1247.1,938.45 L1249.1,938.31 L1251.1,938.21 L1253.1,938.11 L1255.1,938.01 L1257.1,937.92 L1259.1,937.82 L1261.1,937.73 L1263.1,937.63 L1265.1,937.53 L1267.1,937.42 L1269.1,937.30 L1271.1,937.14 L1273.1,936.96 L1275.1,936.76 L1277.1,936.55 L1279.1,936.34 L1281.1,936.13 L1283.1,935.93 L1285.1,935.72 L1287.1,935.53 L1289.1,935.38 L1291.1,935.28 L1293.1,935.23 L1295.1,935.21 L1297.1,935.20 L1299.1,935.20 L1301.1,935.20 L1303.1,935.20 L1305.1,935.20 L1307.1,935.20 L1309.1,935.20 L1311.1,935.20 L1313.1,935.20 L1315.1,935.20 L1317.1,935.20 L1319.1,935.20 L1321.1,935.20 L1323.1,935.20 L1325.1,935.20 L1327.1,935.20 L1329.1,935.20 L1331.1,935.20 L1333.1,935.20 L1335.1,935.20 L1337.1,935.20 L1339.1,935.19 L1341.1,935.16 L1343.1,935.12 L1345.1,935.06 L1347.1,935.00 L1349.1,934.93 L1351.1,934.86 L1353.1,934.79 L1355.1,934.72 L1357.1,934.65 L1359.1,934.58 L1361.1,934.51 L1363.1,934.44 L1365.1,934.37 L1367.1,934.29 L1369.1,934.19 L1371.1,934.07 L1373.1,933.92 L1375.1,933.76 L1377.1,933.60 L1379.1,933.43 L1381.1,933.26 L1383.1,933.09 L1385.1,932.92 L1387.1,932.75 L1389.1,932.58 L1391.1,932.41 L1393.1,932.24 L1395.1,932.07 L1397.1,931.90 L1399.1,931.73 L1401.1,931.56 L1403.1,931.39 L1405.1,931.21 L1407.1,931.04 L1409.1,930.86 L1411.1,930.66 L1413.1,930.46 L1415.1,930.25 L1417.1,930.04 L1419.1,929.82 L1421.1,929.61 L1423.1,929.39 L1425.1,929.18 L1427.1,928.96 L1429.1,928.75 L1431.1,928.53 L1433.1,928.32 L1435.1,928.10 L1437.1,927.89 L1439.1,927.67 L1441.1,927.46 L1443.1,927.24 L1445.1,927.03 L1447.1,926.81 L1449.1,926.59 L1451.1,926.36 L1453.1,926.13 L1455.1,925.90 L1457.1,925.66 L1459.1,925.43 L1461.1,925.19 L1463.1,924.95 L1465.1,924.72 L1467.1,924.48 L1469.1,924.25 L1471.1,924.01 L1473.1,923.77 L1475.1,923.54 L1477.1,923.30 L1479.1,923.07 L1481.1,922.83 L1483.1,922.59 L1485.1,922.36 L1487.1,922.12 L1489.1,921.89 L1491.1,921.65 L1493.1,921.41 L1495.1,921.18 L1497.1,920.94 L1499.1,920.69 L1501.1,920.44 L1503.1,920.17 L1505.1,919.91 L1507.1,919.63 L1509.1,919.36 L1511.1,919.09 L1513.1,918.82 L1515.1,918.55 L1517.1,918.27 L1519.1,918.00 L1521.1,917.73 L1523.1,917.46 L1525.1,917.19 L1527.1,916.91 L1529.1,916.64 L1531.1,916.37 L1533.1,916.10 L1535.1,915.83 L1537.1,915.55 L1539.1,915.28 L1541.1,915.01 L1543.1,914.74 L1545.1,914.47 L1547.1,914.19 L1549.1,913.91 L1551.1,913.61 L1553.1,913.31 L1555.1,913.00 L1557.1,912.69 L1559.1,912.38 L1561.1,912.07 L1563.1,911.76 L1565.1,911.44 L1567.1,911.13 L1569.1,910.82 L1571.1,910.51 L1573.1,910.20 L1575.1,909.88 L1577.1,909.57 L1579.1,909.26 L1581.1,908.95 L1583.1,908.64 L1585.1,908.32 L1587.1,908.01 L1589.1,907.70 L1591.1,907.39 L1593.1,907.08 L1595.1,906.77 L1597.1,906.46 L1599.1,906.15 L1601.1,905.85 L1603.1,905.56 L1605.1,905.27 L1607.1,904.98 L1609.1,904.69 L1611.1,904.40 L1613.1,904.11 L1615.1,903.83 L1617.1,903.54 L1619.1,903.25 L1621.1,902.96 L1623.1,902.67 L1625.1,902.39 L1627.1,902.10 L1629.1,901.81 L1631.1,901.52 L1633.1,901.23 L1635.1,900.95 L1637.1,900.66 L1639.1,900.37 L1641.1,900.08 L1643.1,899.80 L1645.1,899.52 L1647.1,899.29 L1649.1,899.13 L1651.1,899.09 L1653.1,899.17 L1655.1,899.32 L1657.1,899.51 L1659.1,899.71 L1661.1,899.90 L1663.1,900.08 L1665.1,900.19 L1667.1,900.20 L1669.1,900.07 L1671.1,899.84 L1673.1,899.55 L1675.1,899.24 L1677.1,898.93 L1679.1,898.63 L1681.1,898.35 L1683.1,898.14 L1685.1,898.06 L1687.1,898.16 L1689.1,898.38 L1691.1,898.66 L1693.1,898.97 L1695.1,899.29 L1697.1,899.60 L1699.1,899.92 L1701.1,900.23 L1703.1,900.54 L1705.1,900.86 L1707.1,901.17 L1709.1,901.49 L1711.1,901.80 L1713.1,902.11 L1715.1,902.41 L1717.1,902.65 L1719.1,902.77 L1721.1,902.71 L1723.1,902.49 L1725.1,902.16 L1727.1,901.78 L1729.1,901.38 L1731.1,900.98 L1733.1,900.58 L1735.1,900.17 L1737.1,899.76 L1739.1,899.32 L1741.1,898.84 L1743.1,898.32 L1745.1,897.79 L1747.1,897.24 L1749.1,896.69 L1751.1,896.14 L1753.1,895.63 L1755.1,895.23 L1757.1,895.02 L1759.1,895.06 L1761.1,895.28 L1763.1,895.59 L1765.1,895.94 L1767.1,896.29 L1769.1,896.65 L1771.1,896.98 L1773.1,897.25 L1775.1,897.42 L1777.1,897.46 L1779.1,897.40 L1781.1,897.28 L1783.1,897.15 L1785.1,897.01 L1787.1,896.88 L1789.1,896.74 L1791.1,896.61 L1793.1,896.47 L1795.1,896.32 L1797.1,896.16 L1799.1,895.94 L1801.1,895.66 L1803.1,895.31 L1805.1,894.91 L1807.1,894.49 L1809.1,894.07 L1811.1,893.64 L1813.1,893.22 L1815.1,892.79 L1817.1,892.36 L1819.1,891.94 L1821.1,891.51 L1823.1,891.09 L1825.1,890.68 L1827.1,890.30 L1829.1,889.97 L1829.4,889.69" fill="none" stroke="#618038" stroke-width="5.5" stroke-linejoin="round" stroke-linecap="round" style="stroke-linecap:butt"/>
<path d="M1133.1,966.60 L1135.1,965.56 L1137.1,964.52 L1139.1,963.49 L1141.1,962.47 L1143.1,961.46 L1145.1,960.46 L1147.1,959.49 L1149.1,958.57 L1151.1,957.73 L1153.1,956.95 L1155.1,956.22 L1157.1,955.52 L1159.1,954.82 L1161.1,954.12 L1163.1,953.42 L1165.1,952.72 L1167.1,952.05 L1169.1,951.42 L1171.1,950.85 L1173.1,950.33 L1175.1,949.86 L1177.1,949.40 L1179.1,948.95 L1181.1,948.50 L1183.1,948.05 L1185.1,947.61 L1187.1,947.17 L1189.1,946.77 L1191.1,946.40 L1193.1,946.07 L1195.1,945.77 L1197.1,945.47 L1199.1,945.18 L1201.1,944.89 L1203.1,944.60 L1205.1,944.31 L1207.1,944.02 L1209.1,943.72 L1211.1,943.42 L1213.1,943.11 L1215.1,942.80 L1217.1,942.48 L1219.1,942.17 L1221.1,941.85 L1223.1,941.54 L1225.1,941.22 L1227.1,940.91 L1229.1,940.59 L1231.1,940.28 L1233.1,939.96 L1235.1,939.65 L1237.1,939.33 L1239.1,939.02 L1241.1,938.70 L1243.1,938.39 L1245.1,938.07 L1247.1,937.74 L1249.1,937.39 L1251.1,937.00 L1253.1,936.59 L1255.1,936.15 L1257.1,935.70 L1259.1,935.25 L1261.1,934.80 L1263.1,934.35 L1265.1,933.90 L1267.1,933.45 L1269.1,933.00 L1271.1,932.55 L1273.1,932.10 L1275.1,931.65 L1277.1,931.20 L1279.1,930.75 L1281.1,930.30 L1283.1,929.85 L1285.1,929.40 L1287.1,928.93 L1289.1,928.43 L1291.1,927.89 L1293.1,927.30 L1295.1,926.69 L1297.1,926.06 L1299.1,925.43 L1301.1,924.80 L1303.1,924.17 L1305.1,923.54 L1307.1,922.90 L1309.1,922.24 L1311.1,921.56 L1313.1,920.86 L1315.1,920.14 L1317.1,919.41 L1319.1,918.68 L1321.1,917.95 L1323.1,917.22 L1325.1,916.47 L1327.1,915.70 L1329.1,914.86 L1331.1,913.92 L1333.1,912.88 L1335.1,911.78 L1337.1,910.65 L1339.1,909.51 L1341.1,908.37 L1343.1,907.23 L1345.1,906.10 L1347.1,904.98 L1349.1,903.90 L1351.1,902.87 L1353.1,901.88 L1355.1,900.93 L1357.1,900.00 L1359.1,899.07 L1361.1,898.14 L1363.1,897.21 L1365.1,896.29 L1367.1,895.39 L1369.1,894.53 L1371.1,893.74 L1373.1,893.01 L1375.1,892.33 L1377.1,891.66 L1379.1,891.00 L1381.1,890.34 L1383.1,889.68 L1385.1,889.02 L1387.1,888.36 L1389.1,887.70 L1391.1,887.04 L1393.1,886.38 L1395.1,885.72 L1397.1,885.06 L1399.1,884.40 L1401.1,883.74 L1403.1,883.08 L1405.1,882.41 L1407.1,881.72 L1409.1,880.99 L1411.1,880.20 L1413.1,879.35 L1415.1,878.46 L1417.1,877.55 L1419.1,876.64 L1421.1,875.72 L1423.1,874.81 L1425.1,873.89 L1427.1,872.98 L1429.1,872.06 L1431.1,871.15 L1433.1,870.23 L1435.1,869.32 L1437.1,868.40 L1439.1,867.49 L1441.1,866.57 L1443.1,865.66 L1445.1,864.75 L1447.1,863.86 L1449.1,863.00 L1451.1,862.20 L1453.1,861.44 L1455.1,860.72 L1457.1,860.02 L1459.1,859.32 L1461.1,858.62 L1463.1,857.91 L1465.1,857.21 L1467.1,856.51 L1469.1,855.81 L1471.1,855.11 L1473.1,854.39 L1475.1,853.65 L1477.1,852.89 L1479.1,852.10 L1481.1,851.31 L1483.1,850.51 L1485.1,849.71 L1487.1,848.91 L1489.1,848.11 L1491.1,847.31 L1493.1,846.51 L1495.1,845.71 L1497.1,844.91 L1499.1,844.11 L1501.1,843.31 L1503.1,842.51 L1505.1,841.71 L1507.1,840.91 L1509.1,840.11 L1511.1,839.31 L1513.1,838.51 L1515.1,837.71 L1517.1,836.91 L1519.1,836.11 L1521.1,835.32 L1523.1,834.54 L1525.1,833.78 L1527.1,833.06 L1529.1,832.35 L1531.1,831.66 L1533.1,830.98 L1535.1,830.30 L1537.1,829.61 L1539.1,828.93 L1541.1,828.24 L1543.1,827.56 L1545.1,826.88 L1547.1,826.21 L1549.1,825.56 L1551.1,824.94 L1553.1,824.35 L1555.1,823.78 L1557.1,823.21 L1559.1,822.65 L1561.1,822.09 L1563.1,821.53 L1565.1,820.97 L1567.1,820.41 L1569.1,819.85 L1571.1,819.29 L1573.1,818.73 L1575.1,818.17 L1577.1,817.61 L1579.1,817.05 L1581.1,816.49 L1583.1,815.93 L1585.1,815.37 L1587.1,814.81 L1589.1,814.25 L1591.1,813.69 L1593.1,813.13 L1595.1,812.58 L1597.1,812.03 L1599.1,811.49 L1601.1,810.98 L1603.1,810.50 L1605.1,810.03 L1607.1,809.57 L1609.1,809.11 L1611.1,808.65 L1613.1,808.19 L1615.1,807.73 L1617.1,807.27 L1619.1,806.81 L1621.1,806.35 L1623.1,805.89 L1625.1,805.43 L1627.1,804.97 L1629.1,804.51 L1631.1,804.05 L1633.1,803.59 L1635.1,803.13 L1637.1,802.67 L1639.1,802.21 L1641.1,801.75 L1643.1,801.29 L1645.1,800.83 L1647.1,800.36 L1649.1,799.89 L1651.1,799.42 L1653.1,798.94 L1655.1,798.45 L1657.1,797.96 L1659.1,797.47 L1661.1,796.98 L1663.1,796.50 L1665.1,796.03 L1667.1,795.62 L1669.1,795.35 L1671.1,795.28 L1673.1,795.40 L1675.1,795.64 L1677.1,795.94 L1679.1,796.25 L1681.1,796.52 L1683.1,796.70 L1685.1,796.70 L1687.1,796.47 L1689.1,796.06 L1691.1,795.57 L1693.1,795.04 L1695.1,794.52 L1697.1,794.01 L1699.1,793.56 L1701.1,793.18 L1703.1,792.87 L1705.1,792.61 L1707.1,792.37 L1709.1,792.13 L1711.1,791.90 L1713.1,791.66 L1715.1,791.43 L1717.1,791.19 L1719.1,790.96 L1721.1,790.72 L1723.1,790.49 L1725.1,790.25 L1727.1,790.02 L1729.1,789.78 L1731.1,789.55 L1733.1,789.31 L1735.1,789.07 L1737.1,788.80 L1739.1,788.50 L1741.1,788.13 L1743.1,787.69 L1745.1,787.23 L1747.1,786.76 L1749.1,786.34 L1751.1,785.97 L1753.1,785.68 L1755.1,785.42 L1757.1,785.18 L1759.1,784.95 L1761.1,784.72 L1763.1,784.49 L1765.1,784.26 L1767.1,784.03 L1769.1,783.80 L1771.1,783.57 L1773.1,783.34 L1775.1,783.11 L1777.1,782.88 L1779.1,782.65 L1781.1,782.42 L1783.1,782.19 L1785.1,781.95 L1787.1,781.70 L1789.1,781.40 L1791.1,781.04 L1793.1,780.63 L1795.1,780.17 L1797.1,779.69 L1799.1,779.22 L1801.1,778.74 L1803.1,778.26 L1805.1,777.78 L1807.1,777.33 L1809.1,776.91 L1811.1,776.55 L1813.1,776.25 L1815.1,775.98 L1817.1,775.72 L1819.1,775.47 L1821.1,775.23 L1823.1,774.98 L1825.1,774.74 L1827.1,774.52 L1829.1,774.33 L1829.4,774.16" fill="none" stroke="#d80606" stroke-width="5.5" stroke-linejoin="round" stroke-linecap="round" style="stroke-linecap:butt"/>
<path d="M1133.1,967.20 L1135.1,967.14 L1137.1,967.08 L1139.1,967.03 L1141.1,966.97 L1143.1,966.91 L1145.1,966.85 L1147.1,966.80 L1149.1,966.74 L1151.1,966.68 L1153.1,966.62 L1155.1,966.57 L1157.1,966.51 L1159.1,966.45 L1161.1,966.39 L1163.1,966.33 L1165.1,966.24 L1167.1,966.11 L1169.1,965.92 L1171.1,965.68 L1173.1,965.40 L1175.1,965.10 L1177.1,964.80 L1179.1,964.50 L1181.1,964.20 L1183.1,963.89 L1185.1,963.57 L1187.1,963.21 L1189.1,962.80 L1191.1,962.36 L1193.1,961.91 L1195.1,961.45 L1197.1,960.98 L1199.1,960.52 L1201.1,960.05 L1203.1,959.59 L1205.1,959.13 L1207.1,958.66 L1209.1,958.20 L1211.1,957.74 L1213.1,957.30 L1215.1,956.89 L1217.1,956.52 L1219.1,956.21 L1221.1,955.92 L1223.1,955.64 L1225.1,955.37 L1227.1,955.10 L1229.1,954.83 L1231.1,954.56 L1233.1,954.29 L1235.1,954.02 L1237.1,953.75 L1239.1,953.48 L1241.1,953.21 L1243.1,952.94 L1245.1,952.68 L1247.1,952.41 L1249.1,952.15 L1251.1,951.88 L1253.1,951.62 L1255.1,951.36 L1257.1,951.10 L1259.1,950.83 L1261.1,950.57 L1263.1,950.31 L1265.1,950.04 L1267.1,949.78 L1269.1,949.51 L1271.1,949.22 L1273.1,948.90 L1275.1,948.53 L1277.1,948.12 L1279.1,947.67 L1281.1,947.21 L1283.1,946.75 L1285.1,946.29 L1287.1,945.83 L1289.1,945.37 L1291.1,944.95 L1293.1,944.62 L1295.1,944.46 L1297.1,944.51 L1299.1,944.72 L1301.1,945.02 L1303.1,945.35 L1305.1,945.68 L1307.1,946.00 L1309.1,946.29 L1311.1,946.50 L1313.1,946.59 L1315.1,946.55 L1317.1,946.41 L1319.1,946.22 L1321.1,946.03 L1323.1,945.83 L1325.1,945.63 L1327.1,945.42 L1329.1,945.22 L1331.1,945.02 L1333.1,944.82 L1335.1,944.62 L1337.1,944.43 L1339.1,944.25 L1341.1,944.11 L1343.1,944.01 L1345.1,943.95 L1347.1,943.90 L1349.1,943.87 L1351.1,943.83 L1353.1,943.80 L1355.1,943.76 L1357.1,943.73 L1359.1,943.69 L1361.1,943.66 L1363.1,943.62 L1365.1,943.57 L1367.1,943.50 L1369.1,943.35 L1371.1,943.09 L1373.1,942.73 L1375.1,942.29 L1377.1,941.81 L1379.1,941.34 L1381.1,940.91 L1383.1,940.57 L1385.1,940.34 L1387.1,940.23 L1389.1,940.18 L1391.1,940.16 L1393.1,940.15 L1395.1,940.13 L1397.1,940.12 L1399.1,940.11 L1401.1,940.10 L1403.1,940.09 L1405.1,940.08 L1407.1,940.06 L1409.1,940.05 L1411.1,940.04 L1413.1,940.03 L1415.1,940.04 L1417.1,940.07 L1419.1,940.13 L1421.1,940.24 L1423.1,940.38 L1425.1,940.53 L1427.1,940.68 L1429.1,940.84 L1431.1,940.99 L1433.1,941.14 L1435.1,941.27 L1437.1,941.36 L1439.1,941.39 L1441.1,941.37 L1443.1,941.33 L1445.1,941.27 L1447.1,941.21 L1449.1,941.15 L1451.1,941.08 L1453.1,941.02 L1455.1,940.96 L1457.1,940.90 L1459.1,940.84 L1461.1,940.77 L1463.1,940.71 L1465.1,940.65 L1467.1,940.59 L1469.1,940.53 L1471.1,940.47 L1473.1,940.41 L1475.1,940.35 L1477.1,940.30 L1479.1,940.24 L1481.1,940.18 L1483.1,940.12 L1485.1,940.07 L1487.1,940.01 L1489.1,939.95 L1491.1,939.89 L1493.1,939.84 L1495.1,939.78 L1497.1,939.72 L1499.1,939.66 L1501.1,939.61 L1503.1,939.55 L1505.1,939.49 L1507.1,939.43 L1509.1,939.38 L1511.1,939.33 L1513.1,939.28 L1515.1,939.25 L1517.1,939.21 L1519.1,939.18 L1521.1,939.15 L1523.1,939.11 L1525.1,939.08 L1527.1,939.03 L1529.1,938.97 L1531.1,938.88 L1533.1,938.77 L1535.1,938.64 L1537.1,938.50 L1539.1,938.36 L1541.1,938.22 L1543.1,938.08 L1545.1,937.94 L1547.1,937.80 L1549.1,937.66 L1551.1,937.52 L1553.1,937.38 L1555.1,937.24 L1557.1,937.10 L1559.1,936.96 L1561.1,936.82 L1563.1,936.68 L1565.1,936.54 L1567.1,936.40 L1569.1,936.26 L1571.1,936.12 L1573.1,935.98 L1575.1,935.85 L1577.1,935.72 L1579.1,935.62 L1581.1,935.54 L1583.1,935.50 L1585.1,935.48 L1587.1,935.47 L1589.1,935.46 L1591.1,935.45 L1593.1,935.44 L1595.1,935.44 L1597.1,935.43 L1599.1,935.42 L1601.1,935.41 L1603.1,935.40 L1605.1,935.39 L1607.1,935.38 L1609.1,935.38 L1611.1,935.37 L1613.1,935.36 L1615.1,935.35 L1617.1,935.34 L1619.1,935.33 L1621.1,935.32 L1623.1,935.32 L1625.1,935.31 L1627.1,935.30 L1629.1,935.29 L1631.1,935.28 L1633.1,935.27 L1635.1,935.26 L1637.1,935.26 L1639.1,935.25 L1641.1,935.24 L1643.1,935.23 L1645.1,935.22 L1647.1,935.21 L1649.1,935.21 L1651.1,935.21 L1653.1,935.21 L1655.1,935.21 L1657.1,935.21 L1659.1,935.22 L1661.1,935.22 L1663.1,935.23 L1665.1,935.23 L1667.1,935.23 L1669.1,935.24 L1671.1,935.24 L1673.1,935.25 L1675.1,935.25 L1677.1,935.25 L1679.1,935.26 L1681.1,935.26 L1683.1,935.27 L1685.1,935.27 L1687.1,935.27 L1689.1,935.28 L1691.1,935.28 L1693.1,935.29 L1695.1,935.29 L1697.1,935.29 L1699.1,935.29 L1701.1,935.29 L1703.1,935.28 L1705.1,935.27 L1707.1,935.26 L1709.1,935.25 L1711.1,935.24 L1713.1,935.23 L1715.1,935.22 L1717.1,935.21 L1719.1,935.20 L1721.1,935.19 L1723.1,935.18 L1725.1,935.17 L1727.1,935.16 L1729.1,935.15 L1731.1,935.14 L1733.1,935.13 L1735.1,935.12 L1737.1,935.11 L1739.1,935.10 L1741.1,935.09 L1743.1,935.08 L1745.1,935.07 L1747.1,935.06 L1749.1,935.05 L1751.1,935.04 L1753.1,935.03 L1755.1,935.02 L1757.1,935.02 L1759.1,935.01 L1761.1,935.00 L1763.1,934.99 L1765.1,934.99 L1767.1,934.98 L1769.1,934.97 L1771.1,934.97 L1773.1,934.96 L1775.1,934.96 L1777.1,934.95 L1779.1,934.94 L1781.1,934.94 L1783.1,934.93 L1785.1,934.93 L1787.1,934.92 L1789.1,934.92 L1791.1,934.91 L1793.1,934.90 L1795.1,934.90 L1797.1,934.89 L1799.1,934.89 L1801.1,934.88 L1803.1,934.88 L1805.1,934.87 L1807.1,934.86 L1809.1,934.86 L1811.1,934.85 L1813.1,934.85 L1815.1,934.84 L1817.1,934.84 L1819.1,934.83 L1821.1,934.82 L1823.1,934.82 L1825.1,934.81 L1827.1,934.81 L1829.1,934.80 L1829.4,934.80" fill="none" stroke="#3f6ebd" stroke-width="5.5" stroke-linejoin="round" stroke-linecap="round" style="stroke-linecap:butt"/>
</g>
</svg>
</body></html>
